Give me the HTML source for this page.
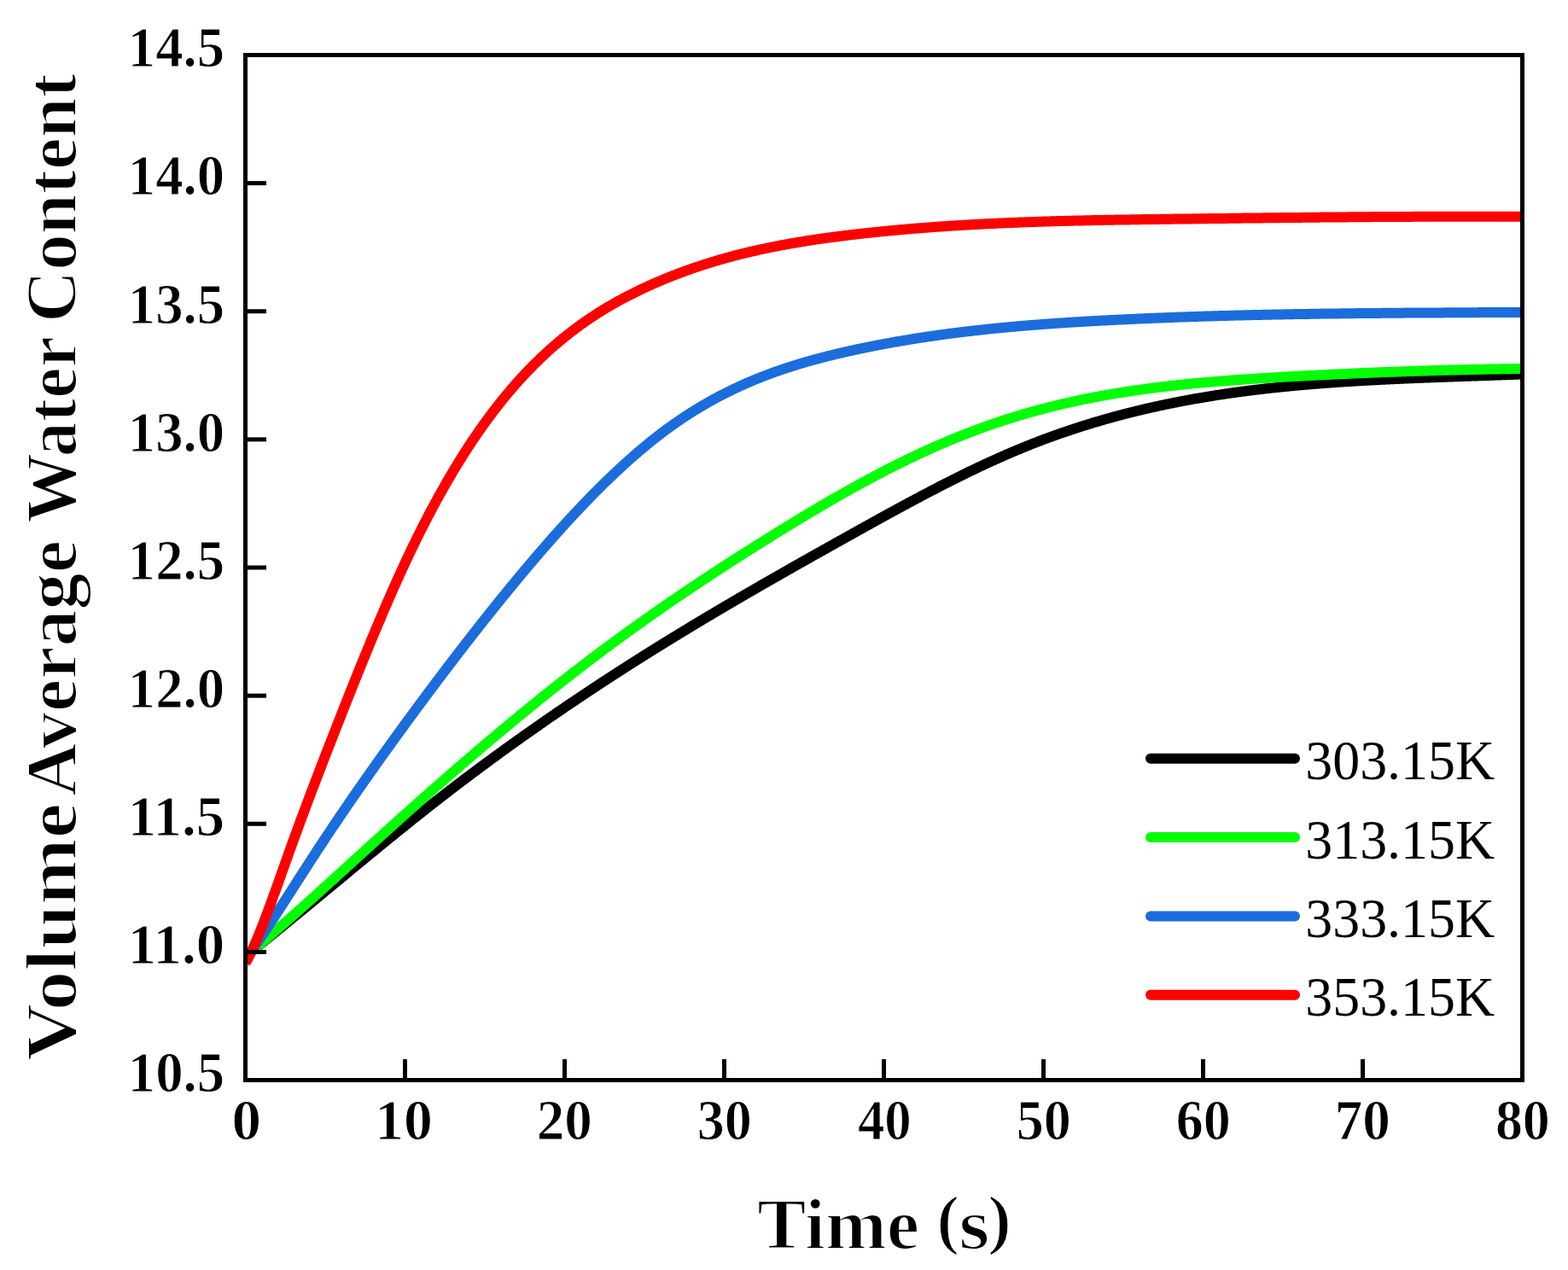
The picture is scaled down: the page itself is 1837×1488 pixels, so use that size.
<!DOCTYPE html>
<html><head><meta charset="utf-8"><title>Volume Average Water Content vs Time</title>
<style>
html,body{margin:0;padding:0;background:#fff;}
svg{display:block;}
.tkl{font-family:"Liberation Serif",serif;font-weight:bold;font-size:67px;fill:#000;stroke:#fff;stroke-width:1px;}
.lg{font-family:"Liberation Serif",serif;font-size:66.5px;fill:#000;}
.ttl{font-family:"Liberation Serif",serif;font-weight:bold;font-size:85.5px;fill:#000;stroke:#fff;stroke-width:2px;}

</style></head>
<body>
<svg width="1837" height="1488" viewBox="0 0 1837 1488">
<rect x="0" y="0" width="1837" height="1488" fill="#fff"/>
<defs><clipPath id="pa"><rect x="287.5" y="64.5" width="1496.0" height="1201.0"/></clipPath></defs>
<g id="plot" clip-path="url(#pa)" fill="none" stroke-width="12" stroke-linejoin="round" stroke-linecap="butt">
<path d="M287.5,1120.2 L288.5,1119.4 L289.5,1118.6 L290.5,1117.8 L291.5,1117.0 L292.5,1116.2 L293.5,1115.5 L294.5,1114.7 L295.5,1113.9 L296.5,1113.1 L297.5,1112.3 L298.5,1111.5 L299.5,1110.7 L300.5,1109.9 L301.5,1109.1 L302.5,1108.3 L303.5,1107.5 L304.5,1106.7 L305.5,1105.9 L306.5,1105.1 L307.5,1104.3 L308.5,1103.5 L309.5,1102.7 L310.5,1101.9 L311.5,1101.1 L312.5,1100.3 L313.5,1099.5 L314.5,1098.6 L315.5,1097.8 L316.5,1097.0 L317.5,1096.2 L318.5,1095.4 L319.5,1094.6 L320.5,1093.8 L321.5,1093.0 L322.5,1092.2 L323.5,1091.4 L324.5,1090.6 L325.5,1089.7 L326.5,1088.9 L327.5,1088.1 L328.5,1087.3 L329.5,1086.5 L330.5,1085.7 L331.5,1084.9 L332.5,1084.0 L333.5,1083.2 L334.5,1082.4 L335.5,1081.6 L336.5,1080.8 L337.5,1080.0 L338.5,1079.2 L339.5,1078.3 L340.5,1077.5 L341.5,1076.7 L342.5,1075.9 L343.5,1075.1 L344.5,1074.2 L345.5,1073.4 L346.5,1072.6 L347.5,1071.8 L348.5,1071.0 L349.5,1070.1 L350.5,1069.3 L351.5,1068.5 L352.5,1067.7 L353.5,1066.8 L354.5,1066.0 L355.5,1065.2 L356.5,1064.4 L357.5,1063.6 L358.5,1062.7 L359.5,1061.9 L360.5,1061.1 L361.5,1060.3 L362.5,1059.4 L363.5,1058.6 L364.5,1057.8 L365.5,1057.0 L366.5,1056.1 L367.5,1055.3 L368.5,1054.5 L369.5,1053.7 L370.5,1052.8 L371.5,1052.0 L372.5,1051.2 L373.5,1050.4 L374.5,1049.5 L375.5,1048.7 L376.5,1047.9 L377.5,1047.0 L378.5,1046.2 L379.5,1045.4 L380.5,1044.6 L381.5,1043.7 L382.5,1042.9 L383.5,1042.1 L384.5,1041.3 L385.5,1040.4 L386.5,1039.6 L387.5,1038.8 L388.5,1037.9 L389.5,1037.1 L390.5,1036.3 L391.5,1035.5 L392.5,1034.6 L393.5,1033.8 L394.5,1033.0 L395.5,1032.1 L396.5,1031.3 L397.5,1030.5 L398.5,1029.7 L399.5,1028.8 L400.5,1028.0 L401.5,1027.2 L402.5,1026.3 L403.5,1025.5 L404.5,1024.7 L405.5,1023.9 L406.5,1023.0 L407.5,1022.2 L408.5,1021.4 L409.5,1020.6 L410.5,1019.7 L411.5,1018.9 L412.5,1018.1 L413.5,1017.3 L414.5,1016.4 L415.5,1015.6 L416.5,1014.8 L417.5,1013.9 L418.5,1013.1 L419.5,1012.3 L420.5,1011.5 L421.5,1010.6 L422.5,1009.8 L423.5,1009.0 L424.5,1008.2 L425.5,1007.3 L426.5,1006.5 L427.5,1005.7 L428.5,1004.9 L429.5,1004.0 L430.5,1003.2 L431.5,1002.4 L432.5,1001.6 L433.5,1000.8 L434.5,999.9 L435.5,999.1 L436.5,998.3 L437.5,997.5 L438.5,996.7 L439.5,995.8 L440.5,995.0 L441.5,994.2 L442.5,993.4 L443.5,992.6 L444.5,991.7 L445.5,990.9 L446.5,990.1 L447.5,989.3 L448.5,988.5 L449.5,987.6 L450.5,986.8 L451.5,986.0 L452.5,985.2 L453.5,984.4 L454.5,983.6 L455.5,982.8 L456.5,981.9 L457.5,981.1 L458.5,980.3 L459.5,979.5 L460.5,978.7 L461.5,977.9 L462.5,977.1 L463.5,976.3 L464.5,975.4 L465.5,974.6 L466.5,973.8 L467.5,973.0 L468.5,972.2 L469.5,971.4 L470.5,970.6 L471.5,969.8 L472.5,969.0 L473.5,968.2 L474.5,967.4 L475.5,966.6 L476.5,965.8 L477.5,965.0 L478.5,964.2 L479.5,963.4 L480.5,962.5 L481.5,961.7 L482.5,960.9 L483.5,960.1 L484.5,959.3 L485.5,958.6 L486.5,957.8 L487.5,957.0 L488.5,956.2 L489.5,955.4 L490.5,954.6 L491.5,953.8 L492.5,953.0 L493.5,952.2 L494.5,951.4 L495.5,950.6 L496.5,949.8 L497.5,949.0 L498.5,948.2 L499.5,947.4 L500.5,946.7 L501.5,945.9 L502.5,945.1 L503.5,944.3 L504.5,943.5 L505.5,942.7 L506.5,941.9 L507.5,941.2 L508.5,940.4 L509.5,939.6 L510.5,938.8 L511.5,938.0 L512.5,937.3 L513.5,936.5 L514.5,935.7 L515.5,934.9 L516.5,934.2 L517.5,933.4 L518.5,932.6 L519.5,931.8 L520.5,931.1 L521.5,930.3 L522.5,929.5 L523.5,928.7 L524.5,928.0 L525.5,927.2 L526.5,926.4 L527.5,925.7 L528.5,924.9 L529.5,924.1 L530.5,923.4 L531.5,922.6 L532.5,921.8 L533.5,921.1 L534.5,920.3 L535.5,919.5 L536.5,918.8 L537.5,918.0 L538.5,917.3 L539.5,916.5 L540.5,915.7 L541.5,915.0 L542.5,914.2 L543.5,913.5 L544.5,912.7 L545.5,912.0 L546.5,911.2 L547.5,910.5 L548.5,909.7 L549.5,909.0 L550.5,908.2 L551.5,907.4 L552.5,906.7 L553.5,905.9 L554.5,905.2 L555.5,904.5 L556.5,903.7 L557.5,903.0 L558.5,902.2 L559.5,901.5 L560.5,900.7 L561.5,900.0 L562.5,899.2 L563.5,898.5 L564.5,897.7 L565.5,897.0 L566.5,896.3 L567.5,895.5 L568.5,894.8 L569.5,894.0 L570.5,893.3 L571.5,892.6 L572.5,891.8 L573.5,891.1 L574.5,890.4 L575.5,889.6 L576.5,888.9 L577.5,888.2 L578.5,887.4 L579.5,886.7 L580.5,886.0 L581.5,885.2 L582.5,884.5 L583.5,883.8 L584.5,883.1 L585.5,882.3 L586.5,881.6 L587.5,880.9 L588.5,880.1 L589.5,879.4 L590.5,878.7 L591.5,878.0 L592.5,877.3 L593.5,876.5 L594.5,875.8 L595.5,875.1 L596.5,874.4 L597.5,873.6 L598.5,872.9 L599.5,872.2 L600.5,871.5 L601.5,870.8 L602.5,870.1 L603.5,869.3 L604.5,868.6 L605.5,867.9 L606.5,867.2 L607.5,866.5 L608.5,865.8 L609.5,865.1 L610.5,864.3 L611.5,863.6 L612.5,862.9 L613.5,862.2 L614.5,861.5 L615.5,860.8 L616.5,860.1 L617.5,859.4 L618.5,858.7 L619.5,858.0 L620.5,857.3 L621.5,856.6 L622.5,855.9 L623.5,855.2 L624.5,854.5 L625.5,853.8 L626.5,853.1 L627.5,852.4 L628.5,851.7 L629.5,851.0 L630.5,850.3 L631.5,849.6 L632.5,848.9 L633.5,848.2 L634.5,847.5 L635.5,846.8 L636.5,846.1 L637.5,845.4 L638.5,844.7 L639.5,844.0 L640.5,843.3 L641.5,842.6 L642.5,841.9 L643.5,841.2 L644.5,840.5 L645.5,839.8 L646.5,839.2 L647.5,838.5 L648.5,837.8 L649.5,837.1 L650.5,836.4 L651.5,835.7 L652.5,835.0 L653.5,834.4 L654.5,833.7 L655.5,833.0 L656.5,832.3 L657.5,831.6 L658.5,830.9 L659.5,830.3 L660.5,829.6 L661.5,828.9 L662.5,828.2 L663.5,827.5 L664.5,826.9 L665.5,826.2 L666.5,825.5 L667.5,824.8 L668.5,824.2 L669.5,823.5 L670.5,822.8 L671.5,822.1 L672.5,821.5 L673.5,820.8 L674.5,820.1 L675.5,819.4 L676.5,818.8 L677.5,818.1 L678.5,817.4 L679.5,816.8 L680.5,816.1 L681.5,815.4 L682.5,814.8 L683.5,814.1 L684.5,813.4 L685.5,812.8 L686.5,812.1 L687.5,811.4 L688.5,810.8 L689.5,810.1 L690.5,809.4 L691.5,808.8 L692.5,808.1 L693.5,807.4 L694.5,806.8 L695.5,806.1 L696.5,805.5 L697.5,804.8 L698.5,804.1 L699.5,803.5 L700.5,802.8 L701.5,802.2 L702.5,801.5 L703.5,800.9 L704.5,800.2 L705.5,799.5 L706.5,798.9 L707.5,798.2 L708.5,797.6 L709.5,796.9 L710.5,796.3 L711.5,795.6 L712.5,795.0 L713.5,794.3 L714.5,793.7 L715.5,793.0 L716.5,792.4 L717.5,791.7 L718.5,791.1 L719.5,790.4 L720.5,789.8 L721.5,789.1 L722.5,788.5 L723.5,787.9 L724.5,787.2 L725.5,786.6 L726.5,785.9 L727.5,785.3 L728.5,784.6 L729.5,784.0 L730.5,783.4 L731.5,782.7 L732.5,782.1 L733.5,781.4 L734.5,780.8 L735.5,780.2 L736.5,779.5 L737.5,778.9 L738.5,778.2 L739.5,777.6 L740.5,777.0 L741.5,776.3 L742.5,775.7 L743.5,775.1 L744.5,774.4 L745.5,773.8 L746.5,773.2 L747.5,772.5 L748.5,771.9 L749.5,771.3 L750.5,770.6 L751.5,770.0 L752.5,769.4 L753.5,768.7 L754.5,768.1 L755.5,767.5 L756.5,766.9 L757.5,766.2 L758.5,765.6 L759.5,765.0 L760.5,764.4 L761.5,763.7 L762.5,763.1 L763.5,762.5 L764.5,761.9 L765.5,761.2 L766.5,760.6 L767.5,760.0 L768.5,759.4 L769.5,758.7 L770.5,758.1 L771.5,757.5 L772.5,756.9 L773.5,756.3 L774.5,755.6 L775.5,755.0 L776.5,754.4 L777.5,753.8 L778.5,753.2 L779.5,752.5 L780.5,751.9 L781.5,751.3 L782.5,750.7 L783.5,750.1 L784.5,749.5 L785.5,748.9 L786.5,748.2 L787.5,747.6 L788.5,747.0 L789.5,746.4 L790.5,745.8 L791.5,745.2 L792.5,744.6 L793.5,744.0 L794.5,743.3 L795.5,742.7 L796.5,742.1 L797.5,741.5 L798.5,740.9 L799.5,740.3 L800.5,739.7 L801.5,739.1 L802.5,738.5 L803.5,737.9 L804.5,737.3 L805.5,736.7 L806.5,736.1 L807.5,735.4 L808.5,734.8 L809.5,734.2 L810.5,733.6 L811.5,733.0 L812.5,732.4 L813.5,731.8 L814.5,731.2 L815.5,730.6 L816.5,730.0 L817.5,729.4 L818.5,728.8 L819.5,728.2 L820.5,727.6 L821.5,727.0 L822.5,726.4 L823.5,725.8 L824.5,725.2 L825.5,724.6 L826.5,724.0 L827.5,723.4 L828.5,722.8 L829.5,722.2 L830.5,721.6 L831.5,721.1 L832.5,720.5 L833.5,719.9 L834.5,719.3 L835.5,718.7 L836.5,718.1 L837.5,717.5 L838.5,716.9 L839.5,716.3 L840.5,715.7 L841.5,715.1 L842.5,714.5 L843.5,713.9 L844.5,713.3 L845.5,712.8 L846.5,712.2 L847.5,711.6 L848.5,711.0 L849.5,710.4 L850.5,709.8 L851.5,709.2 L852.5,708.6 L853.5,708.0 L854.5,707.5 L855.5,706.9 L856.5,706.3 L857.5,705.7 L858.5,705.1 L859.5,704.5 L860.5,703.9 L861.5,703.4 L862.5,702.8 L863.5,702.2 L864.5,701.6 L865.5,701.0 L866.5,700.4 L867.5,699.9 L868.5,699.3 L869.5,698.7 L870.5,698.1 L871.5,697.5 L872.5,696.9 L873.5,696.4 L874.5,695.8 L875.5,695.2 L876.5,694.6 L877.5,694.0 L878.5,693.5 L879.5,692.9 L880.5,692.3 L881.5,691.7 L882.5,691.1 L883.5,690.6 L884.5,690.0 L885.5,689.4 L886.5,688.8 L887.5,688.3 L888.5,687.7 L889.5,687.1 L890.5,686.5 L891.5,685.9 L892.5,685.4 L893.5,684.8 L894.5,684.2 L895.5,683.6 L896.5,683.1 L897.5,682.5 L898.5,681.9 L899.5,681.4 L900.5,680.8 L901.5,680.2 L902.5,679.6 L903.5,679.1 L904.5,678.5 L905.5,677.9 L906.5,677.3 L907.5,676.8 L908.5,676.2 L909.5,675.6 L910.5,675.1 L911.5,674.5 L912.5,673.9 L913.5,673.3 L914.5,672.8 L915.5,672.2 L916.5,671.6 L917.5,671.1 L918.5,670.5 L919.5,669.9 L920.5,669.4 L921.5,668.8 L922.5,668.2 L923.5,667.6 L924.5,667.1 L925.5,666.5 L926.5,665.9 L927.5,665.4 L928.5,664.8 L929.5,664.2 L930.5,663.7 L931.5,663.1 L932.5,662.5 L933.5,662.0 L934.5,661.4 L935.5,660.8 L936.5,660.3 L937.5,659.7 L938.5,659.1 L939.5,658.6 L940.5,658.0 L941.5,657.4 L942.5,656.9 L943.5,656.3 L944.5,655.8 L945.5,655.2 L946.5,654.6 L947.5,654.1 L948.5,653.5 L949.5,652.9 L950.5,652.4 L951.5,651.8 L952.5,651.2 L953.5,650.7 L954.5,650.1 L955.5,649.6 L956.5,649.0 L957.5,648.4 L958.5,647.9 L959.5,647.3 L960.5,646.8 L961.5,646.2 L962.5,645.6 L963.5,645.1 L964.5,644.5 L965.5,643.9 L966.5,643.4 L967.5,642.8 L968.5,642.3 L969.5,641.7 L970.5,641.1 L971.5,640.6 L972.5,640.0 L973.5,639.5 L974.5,638.9 L975.5,638.3 L976.5,637.8 L977.5,637.2 L978.5,636.7 L979.5,636.1 L980.5,635.5 L981.5,635.0 L982.5,634.4 L983.5,633.9 L984.5,633.3 L985.5,632.8 L986.5,632.2 L987.5,631.6 L988.5,631.1 L989.5,630.5 L990.5,630.0 L991.5,629.4 L992.5,628.8 L993.5,628.3 L994.5,627.7 L995.5,627.2 L996.5,626.6 L997.5,626.1 L998.5,625.5 L999.5,624.9 L1000.5,624.4 L1001.5,623.8 L1002.5,623.3 L1003.5,622.7 L1004.5,622.2 L1005.5,621.6 L1006.5,621.0 L1007.5,620.5 L1008.5,619.9 L1009.5,619.4 L1010.5,618.8 L1011.5,618.3 L1012.5,617.7 L1013.5,617.2 L1014.5,616.6 L1015.5,616.0 L1016.5,615.5 L1017.5,614.9 L1018.5,614.4 L1019.5,613.8 L1020.5,613.3 L1021.5,612.7 L1022.5,612.2 L1023.5,611.6 L1024.5,611.1 L1025.5,610.5 L1026.5,610.0 L1027.5,609.4 L1028.5,608.9 L1029.5,608.3 L1030.5,607.7 L1031.5,607.2 L1032.5,606.6 L1033.5,606.1 L1034.5,605.5 L1035.5,605.0 L1036.5,604.4 L1037.5,603.9 L1038.5,603.3 L1039.5,602.8 L1040.5,602.2 L1041.5,601.7 L1042.5,601.2 L1043.5,600.6 L1044.5,600.1 L1045.5,599.5 L1046.5,599.0 L1047.5,598.4 L1048.5,597.9 L1049.5,597.3 L1050.5,596.8 L1051.5,596.2 L1052.5,595.7 L1053.5,595.2 L1054.5,594.6 L1055.5,594.1 L1056.5,593.5 L1057.5,593.0 L1058.5,592.4 L1059.5,591.9 L1060.5,591.4 L1061.5,590.8 L1062.5,590.3 L1063.5,589.7 L1064.5,589.2 L1065.5,588.7 L1066.5,588.1 L1067.5,587.6 L1068.5,587.1 L1069.5,586.5 L1070.5,586.0 L1071.5,585.5 L1072.5,584.9 L1073.5,584.4 L1074.5,583.9 L1075.5,583.3 L1076.5,582.8 L1077.5,582.3 L1078.5,581.7 L1079.5,581.2 L1080.5,580.7 L1081.5,580.1 L1082.5,579.6 L1083.5,579.1 L1084.5,578.6 L1085.5,578.0 L1086.5,577.5 L1087.5,577.0 L1088.5,576.5 L1089.5,575.9 L1090.5,575.4 L1091.5,574.9 L1092.5,574.4 L1093.5,573.9 L1094.5,573.3 L1095.5,572.8 L1096.5,572.3 L1097.5,571.8 L1098.5,571.3 L1099.5,570.7 L1100.5,570.2 L1101.5,569.7 L1102.5,569.2 L1103.5,568.7 L1104.5,568.2 L1105.5,567.7 L1106.5,567.2 L1107.5,566.6 L1108.5,566.1 L1109.5,565.6 L1110.5,565.1 L1111.5,564.6 L1112.5,564.1 L1113.5,563.6 L1114.5,563.1 L1115.5,562.6 L1116.5,562.1 L1117.5,561.6 L1118.5,561.1 L1119.5,560.6 L1120.5,560.1 L1121.5,559.6 L1122.5,559.1 L1123.5,558.6 L1124.5,558.1 L1125.5,557.6 L1126.5,557.1 L1127.5,556.6 L1128.5,556.1 L1129.5,555.6 L1130.5,555.1 L1131.5,554.7 L1132.5,554.2 L1133.5,553.7 L1134.5,553.2 L1135.5,552.7 L1136.5,552.2 L1137.5,551.7 L1138.5,551.3 L1139.5,550.8 L1140.5,550.3 L1141.5,549.8 L1142.5,549.3 L1143.5,548.9 L1144.5,548.4 L1145.5,547.9 L1146.5,547.4 L1147.5,547.0 L1148.5,546.5 L1149.5,546.0 L1150.5,545.6 L1151.5,545.1 L1152.5,544.6 L1153.5,544.2 L1154.5,543.7 L1155.5,543.2 L1156.5,542.8 L1157.5,542.3 L1158.5,541.8 L1159.5,541.4 L1160.5,540.9 L1161.5,540.5 L1162.5,540.0 L1163.5,539.6 L1164.5,539.1 L1165.5,538.7 L1166.5,538.2 L1167.5,537.8 L1168.5,537.3 L1169.5,536.9 L1170.5,536.4 L1171.5,536.0 L1172.5,535.5 L1173.5,535.1 L1174.5,534.6 L1175.5,534.2 L1176.5,533.8 L1177.5,533.3 L1178.5,532.9 L1179.5,532.4 L1180.5,532.0 L1181.5,531.6 L1182.5,531.2 L1183.5,530.7 L1184.5,530.3 L1185.5,529.9 L1186.5,529.4 L1187.5,529.0 L1188.5,528.6 L1189.5,528.2 L1190.5,527.7 L1191.5,527.3 L1192.5,526.9 L1193.5,526.5 L1194.5,526.1 L1195.5,525.7 L1196.5,525.3 L1197.5,524.8 L1198.5,524.4 L1199.5,524.0 L1200.5,523.6 L1201.5,523.2 L1202.5,522.8 L1203.5,522.4 L1204.5,522.0 L1205.5,521.6 L1206.5,521.2 L1207.5,520.8 L1208.5,520.4 L1209.5,520.0 L1210.5,519.6 L1211.5,519.2 L1212.5,518.8 L1213.5,518.5 L1214.5,518.1 L1215.5,517.7 L1216.5,517.3 L1217.5,516.9 L1218.5,516.5 L1219.5,516.2 L1220.5,515.8 L1221.5,515.4 L1222.5,515.0 L1223.5,514.6 L1224.5,514.3 L1225.5,513.9 L1226.5,513.5 L1227.5,513.2 L1228.5,512.8 L1229.5,512.4 L1230.5,512.1 L1231.5,511.7 L1232.5,511.3 L1233.5,511.0 L1234.5,510.6 L1235.5,510.3 L1236.5,509.9 L1237.5,509.5 L1238.5,509.2 L1239.5,508.8 L1240.5,508.5 L1241.5,508.1 L1242.5,507.8 L1243.5,507.4 L1244.5,507.1 L1245.5,506.7 L1246.5,506.4 L1247.5,506.1 L1248.5,505.7 L1249.5,505.4 L1250.5,505.0 L1251.5,504.7 L1252.5,504.4 L1253.5,504.0 L1254.5,503.7 L1255.5,503.4 L1256.5,503.0 L1257.5,502.7 L1258.5,502.4 L1259.5,502.0 L1260.5,501.7 L1261.5,501.4 L1262.5,501.1 L1263.5,500.7 L1264.5,500.4 L1265.5,500.1 L1266.5,499.8 L1267.5,499.5 L1268.5,499.1 L1269.5,498.8 L1270.5,498.5 L1271.5,498.2 L1272.5,497.9 L1273.5,497.6 L1274.5,497.3 L1275.5,497.0 L1276.5,496.7 L1277.5,496.4 L1278.5,496.0 L1279.5,495.7 L1280.5,495.4 L1281.5,495.1 L1282.5,494.8 L1283.5,494.5 L1284.5,494.3 L1285.5,494.0 L1286.5,493.7 L1287.5,493.4 L1288.5,493.1 L1289.5,492.8 L1290.5,492.5 L1291.5,492.2 L1292.5,491.9 L1293.5,491.6 L1294.5,491.3 L1295.5,491.1 L1296.5,490.8 L1297.5,490.5 L1298.5,490.2 L1299.5,489.9 L1300.5,489.7 L1301.5,489.4 L1302.5,489.1 L1303.5,488.8 L1304.5,488.6 L1305.5,488.3 L1306.5,488.0 L1307.5,487.7 L1308.5,487.5 L1309.5,487.2 L1310.5,486.9 L1311.5,486.7 L1312.5,486.4 L1313.5,486.1 L1314.5,485.9 L1315.5,485.6 L1316.5,485.4 L1317.5,485.1 L1318.5,484.8 L1319.5,484.6 L1320.5,484.3 L1321.5,484.1 L1322.5,483.8 L1323.5,483.6 L1324.5,483.3 L1325.5,483.1 L1326.5,482.8 L1327.5,482.6 L1328.5,482.3 L1329.5,482.1 L1330.5,481.8 L1331.5,481.6 L1332.5,481.3 L1333.5,481.1 L1334.5,480.9 L1335.5,480.6 L1336.5,480.4 L1337.5,480.1 L1338.5,479.9 L1339.5,479.7 L1340.5,479.4 L1341.5,479.2 L1342.5,479.0 L1343.5,478.7 L1344.5,478.5 L1345.5,478.3 L1346.5,478.1 L1347.5,477.8 L1348.5,477.6 L1349.5,477.4 L1350.5,477.2 L1351.5,476.9 L1352.5,476.7 L1353.5,476.5 L1354.5,476.3 L1355.5,476.1 L1356.5,475.8 L1357.5,475.6 L1358.5,475.4 L1359.5,475.2 L1360.5,475.0 L1361.5,474.8 L1362.5,474.5 L1363.5,474.3 L1364.5,474.1 L1365.5,473.9 L1366.5,473.7 L1367.5,473.5 L1368.5,473.3 L1369.5,473.1 L1370.5,472.9 L1371.5,472.7 L1372.5,472.5 L1373.5,472.3 L1374.5,472.1 L1375.5,471.9 L1376.5,471.7 L1377.5,471.5 L1378.5,471.3 L1379.5,471.1 L1380.5,470.9 L1381.5,470.7 L1382.5,470.5 L1383.5,470.3 L1384.5,470.1 L1385.5,469.9 L1386.5,469.7 L1387.5,469.6 L1388.5,469.4 L1389.5,469.2 L1390.5,469.0 L1391.5,468.8 L1392.5,468.6 L1393.5,468.4 L1394.5,468.3 L1395.5,468.1 L1396.5,467.9 L1397.5,467.7 L1398.5,467.5 L1399.5,467.4 L1400.5,467.2 L1401.5,467.0 L1402.5,466.8 L1403.5,466.7 L1404.5,466.5 L1405.5,466.3 L1406.5,466.1 L1407.5,466.0 L1408.5,465.8 L1409.5,465.6 L1410.5,465.5 L1411.5,465.3 L1412.5,465.1 L1413.5,465.0 L1414.5,464.8 L1415.5,464.6 L1416.5,464.5 L1417.5,464.3 L1418.5,464.1 L1419.5,464.0 L1420.5,463.8 L1421.5,463.7 L1422.5,463.5 L1423.5,463.4 L1424.5,463.2 L1425.5,463.0 L1426.5,462.9 L1427.5,462.7 L1428.5,462.6 L1429.5,462.4 L1430.5,462.3 L1431.5,462.1 L1432.5,462.0 L1433.5,461.8 L1434.5,461.7 L1435.5,461.5 L1436.5,461.4 L1437.5,461.2 L1438.5,461.1 L1439.5,460.9 L1440.5,460.8 L1441.5,460.7 L1442.5,460.5 L1443.5,460.4 L1444.5,460.2 L1445.5,460.1 L1446.5,460.0 L1447.5,459.8 L1448.5,459.7 L1449.5,459.5 L1450.5,459.4 L1451.5,459.3 L1452.5,459.1 L1453.5,459.0 L1454.5,458.9 L1455.5,458.7 L1456.5,458.6 L1457.5,458.5 L1458.5,458.3 L1459.5,458.2 L1460.5,458.1 L1461.5,457.9 L1462.5,457.8 L1463.5,457.7 L1464.5,457.6 L1465.5,457.4 L1466.5,457.3 L1467.5,457.2 L1468.5,457.1 L1469.5,456.9 L1470.5,456.8 L1471.5,456.7 L1472.5,456.6 L1473.5,456.5 L1474.5,456.3 L1475.5,456.2 L1476.5,456.1 L1477.5,456.0 L1478.5,455.9 L1479.5,455.8 L1480.5,455.6 L1481.5,455.5 L1482.5,455.4 L1483.5,455.3 L1484.5,455.2 L1485.5,455.1 L1486.5,455.0 L1487.5,454.9 L1488.5,454.7 L1489.5,454.6 L1490.5,454.5 L1491.5,454.4 L1492.5,454.3 L1493.5,454.2 L1494.5,454.1 L1495.5,454.0 L1496.5,453.9 L1497.5,453.8 L1498.5,453.7 L1499.5,453.6 L1500.5,453.5 L1501.5,453.4 L1502.5,453.3 L1503.5,453.2 L1504.5,453.1 L1505.5,453.0 L1506.5,452.9 L1507.5,452.8 L1508.5,452.7 L1509.5,452.6 L1510.5,452.5 L1511.5,452.4 L1512.5,452.3 L1513.5,452.2 L1514.5,452.1 L1515.5,452.0 L1516.5,451.9 L1517.5,451.8 L1518.5,451.7 L1519.5,451.6 L1520.5,451.5 L1521.5,451.4 L1522.5,451.4 L1523.5,451.3 L1524.5,451.2 L1525.5,451.1 L1526.5,451.0 L1527.5,450.9 L1528.5,450.8 L1529.5,450.7 L1530.5,450.7 L1531.5,450.6 L1532.5,450.5 L1533.5,450.4 L1534.5,450.3 L1535.5,450.2 L1536.5,450.2 L1537.5,450.1 L1538.5,450.0 L1539.5,449.9 L1540.5,449.8 L1541.5,449.7 L1542.5,449.7 L1543.5,449.6 L1544.5,449.5 L1545.5,449.4 L1546.5,449.4 L1547.5,449.3 L1548.5,449.2 L1549.5,449.1 L1550.5,449.0 L1551.5,449.0 L1552.5,448.9 L1553.5,448.8 L1554.5,448.7 L1555.5,448.7 L1556.5,448.6 L1557.5,448.5 L1558.5,448.5 L1559.5,448.4 L1560.5,448.3 L1561.5,448.2 L1562.5,448.2 L1563.5,448.1 L1564.5,448.0 L1565.5,448.0 L1566.5,447.9 L1567.5,447.8 L1568.5,447.8 L1569.5,447.7 L1570.5,447.6 L1571.5,447.6 L1572.5,447.5 L1573.5,447.4 L1574.5,447.4 L1575.5,447.3 L1576.5,447.2 L1577.5,447.2 L1578.5,447.1 L1579.5,447.0 L1580.5,447.0 L1581.5,446.9 L1582.5,446.9 L1583.5,446.8 L1584.5,446.7 L1585.5,446.7 L1586.5,446.6 L1587.5,446.5 L1588.5,446.5 L1589.5,446.4 L1590.5,446.4 L1591.5,446.3 L1592.5,446.3 L1593.5,446.2 L1594.5,446.1 L1595.5,446.1 L1596.5,446.0 L1597.5,446.0 L1598.5,445.9 L1599.5,445.9 L1600.5,445.8 L1601.5,445.7 L1602.5,445.7 L1603.5,445.6 L1604.5,445.6 L1605.5,445.5 L1606.5,445.5 L1607.5,445.4 L1608.5,445.4 L1609.5,445.3 L1610.5,445.3 L1611.5,445.2 L1612.5,445.2 L1613.5,445.1 L1614.5,445.1 L1615.5,445.0 L1616.5,445.0 L1617.5,444.9 L1618.5,444.8 L1619.5,444.8 L1620.5,444.8 L1621.5,444.7 L1622.5,444.7 L1623.5,444.6 L1624.5,444.6 L1625.5,444.5 L1626.5,444.5 L1627.5,444.4 L1628.5,444.4 L1629.5,444.3 L1630.5,444.3 L1631.5,444.2 L1632.5,444.2 L1633.5,444.1 L1634.5,444.1 L1635.5,444.0 L1636.5,444.0 L1637.5,443.9 L1638.5,443.9 L1639.5,443.9 L1640.5,443.8 L1641.5,443.8 L1642.5,443.7 L1643.5,443.7 L1644.5,443.6 L1645.5,443.6 L1646.5,443.6 L1647.5,443.5 L1648.5,443.5 L1649.5,443.4 L1650.5,443.4 L1651.5,443.3 L1652.5,443.3 L1653.5,443.3 L1654.5,443.2 L1655.5,443.2 L1656.5,443.1 L1657.5,443.1 L1658.5,443.0 L1659.5,443.0 L1660.5,443.0 L1661.5,442.9 L1662.5,442.9 L1663.5,442.8 L1664.5,442.8 L1665.5,442.8 L1666.5,442.7 L1667.5,442.7 L1668.5,442.6 L1669.5,442.6 L1670.5,442.6 L1671.5,442.5 L1672.5,442.5 L1673.5,442.5 L1674.5,442.4 L1675.5,442.4 L1676.5,442.3 L1677.5,442.3 L1678.5,442.3 L1679.5,442.2 L1680.5,442.2 L1681.5,442.1 L1682.5,442.1 L1683.5,442.1 L1684.5,442.0 L1685.5,442.0 L1686.5,442.0 L1687.5,441.9 L1688.5,441.9 L1689.5,441.9 L1690.5,441.8 L1691.5,441.8 L1692.5,441.7 L1693.5,441.7 L1694.5,441.7 L1695.5,441.6 L1696.5,441.6 L1697.5,441.6 L1698.5,441.5 L1699.5,441.5 L1700.5,441.5 L1701.5,441.4 L1702.5,441.4 L1703.5,441.3 L1704.5,441.3 L1705.5,441.3 L1706.5,441.2 L1707.5,441.2 L1708.5,441.2 L1709.5,441.1 L1710.5,441.1 L1711.5,441.1 L1712.5,441.0 L1713.5,441.0 L1714.5,441.0 L1715.5,440.9 L1716.5,440.9 L1717.5,440.8 L1718.5,440.8 L1719.5,440.8 L1720.5,440.7 L1721.5,440.7 L1722.5,440.7 L1723.5,440.6 L1724.5,440.6 L1725.5,440.6 L1726.5,440.5 L1727.5,440.5 L1728.5,440.5 L1729.5,440.4 L1730.5,440.4 L1731.5,440.4 L1732.5,440.3 L1733.5,440.3 L1734.5,440.2 L1735.5,440.2 L1736.5,440.2 L1737.5,440.1 L1738.5,440.1 L1739.5,440.1 L1740.5,440.0 L1741.5,440.0 L1742.5,440.0 L1743.5,439.9 L1744.5,439.9 L1745.5,439.9 L1746.5,439.8 L1747.5,439.8 L1748.5,439.7 L1749.5,439.7 L1750.5,439.7 L1751.5,439.6 L1752.5,439.6 L1753.5,439.6 L1754.5,439.5 L1755.5,439.5 L1756.5,439.5 L1757.5,439.4 L1758.5,439.4 L1759.5,439.3 L1760.5,439.3 L1761.5,439.3 L1762.5,439.2 L1763.5,439.2 L1764.5,439.2 L1765.5,439.1 L1766.5,439.1 L1767.5,439.0 L1768.5,439.0 L1769.5,439.0 L1770.5,438.9 L1771.5,438.9 L1772.5,438.9 L1773.5,438.8 L1774.5,438.8 L1775.5,438.7 L1776.5,438.7 L1777.5,438.7 L1778.5,438.6 L1779.5,438.6 L1780.5,438.5 L1781.5,438.5 L1782.5,438.5 L1783.5,438.4" stroke="#000000"/>
<path d="M287.5,1120.7 L288.5,1119.9 L289.5,1119.0 L290.5,1118.2 L291.5,1117.4 L292.5,1116.5 L293.5,1115.7 L294.5,1114.9 L295.5,1114.0 L296.5,1113.2 L297.5,1112.3 L298.5,1111.5 L299.5,1110.7 L300.5,1109.8 L301.5,1109.0 L302.5,1108.1 L303.5,1107.3 L304.5,1106.4 L305.5,1105.6 L306.5,1104.7 L307.5,1103.9 L308.5,1103.0 L309.5,1102.1 L310.5,1101.3 L311.5,1100.4 L312.5,1099.6 L313.5,1098.7 L314.5,1097.9 L315.5,1097.0 L316.5,1096.1 L317.5,1095.3 L318.5,1094.4 L319.5,1093.5 L320.5,1092.7 L321.5,1091.8 L322.5,1090.9 L323.5,1090.1 L324.5,1089.2 L325.5,1088.3 L326.5,1087.5 L327.5,1086.6 L328.5,1085.7 L329.5,1084.8 L330.5,1084.0 L331.5,1083.1 L332.5,1082.2 L333.5,1081.3 L334.5,1080.5 L335.5,1079.6 L336.5,1078.7 L337.5,1077.8 L338.5,1076.9 L339.5,1076.1 L340.5,1075.2 L341.5,1074.3 L342.5,1073.4 L343.5,1072.5 L344.5,1071.6 L345.5,1070.7 L346.5,1069.9 L347.5,1069.0 L348.5,1068.1 L349.5,1067.2 L350.5,1066.3 L351.5,1065.4 L352.5,1064.5 L353.5,1063.6 L354.5,1062.7 L355.5,1061.8 L356.5,1060.9 L357.5,1060.0 L358.5,1059.2 L359.5,1058.3 L360.5,1057.4 L361.5,1056.5 L362.5,1055.6 L363.5,1054.7 L364.5,1053.8 L365.5,1052.9 L366.5,1052.0 L367.5,1051.1 L368.5,1050.2 L369.5,1049.3 L370.5,1048.4 L371.5,1047.5 L372.5,1046.6 L373.5,1045.7 L374.5,1044.8 L375.5,1043.9 L376.5,1043.0 L377.5,1042.1 L378.5,1041.2 L379.5,1040.3 L380.5,1039.3 L381.5,1038.4 L382.5,1037.5 L383.5,1036.6 L384.5,1035.7 L385.5,1034.8 L386.5,1033.9 L387.5,1033.0 L388.5,1032.1 L389.5,1031.2 L390.5,1030.3 L391.5,1029.4 L392.5,1028.5 L393.5,1027.6 L394.5,1026.6 L395.5,1025.7 L396.5,1024.8 L397.5,1023.9 L398.5,1023.0 L399.5,1022.1 L400.5,1021.2 L401.5,1020.3 L402.5,1019.4 L403.5,1018.5 L404.5,1017.6 L405.5,1016.6 L406.5,1015.7 L407.5,1014.8 L408.5,1013.9 L409.5,1013.0 L410.5,1012.1 L411.5,1011.2 L412.5,1010.3 L413.5,1009.4 L414.5,1008.5 L415.5,1007.5 L416.5,1006.6 L417.5,1005.7 L418.5,1004.8 L419.5,1003.9 L420.5,1003.0 L421.5,1002.1 L422.5,1001.2 L423.5,1000.3 L424.5,999.3 L425.5,998.4 L426.5,997.5 L427.5,996.6 L428.5,995.7 L429.5,994.8 L430.5,993.9 L431.5,993.0 L432.5,992.1 L433.5,991.2 L434.5,990.3 L435.5,989.3 L436.5,988.4 L437.5,987.5 L438.5,986.6 L439.5,985.7 L440.5,984.8 L441.5,983.9 L442.5,983.0 L443.5,982.1 L444.5,981.2 L445.5,980.3 L446.5,979.4 L447.5,978.5 L448.5,977.6 L449.5,976.7 L450.5,975.8 L451.5,974.8 L452.5,973.9 L453.5,973.0 L454.5,972.1 L455.5,971.2 L456.5,970.3 L457.5,969.4 L458.5,968.5 L459.5,967.6 L460.5,966.7 L461.5,965.8 L462.5,964.9 L463.5,964.0 L464.5,963.1 L465.5,962.2 L466.5,961.3 L467.5,960.4 L468.5,959.5 L469.5,958.6 L470.5,957.7 L471.5,956.9 L472.5,956.0 L473.5,955.1 L474.5,954.2 L475.5,953.3 L476.5,952.4 L477.5,951.5 L478.5,950.6 L479.5,949.7 L480.5,948.8 L481.5,947.9 L482.5,947.0 L483.5,946.1 L484.5,945.2 L485.5,944.4 L486.5,943.5 L487.5,942.6 L488.5,941.7 L489.5,940.8 L490.5,939.9 L491.5,939.0 L492.5,938.1 L493.5,937.2 L494.5,936.4 L495.5,935.5 L496.5,934.6 L497.5,933.7 L498.5,932.8 L499.5,931.9 L500.5,931.1 L501.5,930.2 L502.5,929.3 L503.5,928.4 L504.5,927.5 L505.5,926.6 L506.5,925.8 L507.5,924.9 L508.5,924.0 L509.5,923.1 L510.5,922.2 L511.5,921.4 L512.5,920.5 L513.5,919.6 L514.5,918.7 L515.5,917.9 L516.5,917.0 L517.5,916.1 L518.5,915.2 L519.5,914.4 L520.5,913.5 L521.5,912.6 L522.5,911.7 L523.5,910.9 L524.5,910.0 L525.5,909.1 L526.5,908.2 L527.5,907.4 L528.5,906.5 L529.5,905.6 L530.5,904.8 L531.5,903.9 L532.5,903.0 L533.5,902.2 L534.5,901.3 L535.5,900.4 L536.5,899.6 L537.5,898.7 L538.5,897.8 L539.5,897.0 L540.5,896.1 L541.5,895.2 L542.5,894.4 L543.5,893.5 L544.5,892.7 L545.5,891.8 L546.5,890.9 L547.5,890.1 L548.5,889.2 L549.5,888.4 L550.5,887.5 L551.5,886.6 L552.5,885.8 L553.5,884.9 L554.5,884.1 L555.5,883.2 L556.5,882.4 L557.5,881.5 L558.5,880.7 L559.5,879.8 L560.5,879.0 L561.5,878.1 L562.5,877.3 L563.5,876.4 L564.5,875.6 L565.5,874.7 L566.5,873.9 L567.5,873.0 L568.5,872.2 L569.5,871.3 L570.5,870.5 L571.5,869.6 L572.5,868.8 L573.5,867.9 L574.5,867.1 L575.5,866.2 L576.5,865.4 L577.5,864.6 L578.5,863.7 L579.5,862.9 L580.5,862.0 L581.5,861.2 L582.5,860.4 L583.5,859.5 L584.5,858.7 L585.5,857.8 L586.5,857.0 L587.5,856.2 L588.5,855.3 L589.5,854.5 L590.5,853.7 L591.5,852.8 L592.5,852.0 L593.5,851.2 L594.5,850.3 L595.5,849.5 L596.5,848.7 L597.5,847.8 L598.5,847.0 L599.5,846.2 L600.5,845.4 L601.5,844.5 L602.5,843.7 L603.5,842.9 L604.5,842.1 L605.5,841.2 L606.5,840.4 L607.5,839.6 L608.5,838.8 L609.5,837.9 L610.5,837.1 L611.5,836.3 L612.5,835.5 L613.5,834.7 L614.5,833.8 L615.5,833.0 L616.5,832.2 L617.5,831.4 L618.5,830.6 L619.5,829.8 L620.5,828.9 L621.5,828.1 L622.5,827.3 L623.5,826.5 L624.5,825.7 L625.5,824.9 L626.5,824.1 L627.5,823.3 L628.5,822.5 L629.5,821.6 L630.5,820.8 L631.5,820.0 L632.5,819.2 L633.5,818.4 L634.5,817.6 L635.5,816.8 L636.5,816.0 L637.5,815.2 L638.5,814.4 L639.5,813.6 L640.5,812.8 L641.5,812.0 L642.5,811.2 L643.5,810.4 L644.5,809.6 L645.5,808.8 L646.5,808.0 L647.5,807.2 L648.5,806.4 L649.5,805.6 L650.5,804.9 L651.5,804.1 L652.5,803.3 L653.5,802.5 L654.5,801.7 L655.5,800.9 L656.5,800.1 L657.5,799.3 L658.5,798.5 L659.5,797.8 L660.5,797.0 L661.5,796.2 L662.5,795.4 L663.5,794.6 L664.5,793.8 L665.5,793.1 L666.5,792.3 L667.5,791.5 L668.5,790.7 L669.5,789.9 L670.5,789.2 L671.5,788.4 L672.5,787.6 L673.5,786.8 L674.5,786.1 L675.5,785.3 L676.5,784.5 L677.5,783.8 L678.5,783.0 L679.5,782.2 L680.5,781.4 L681.5,780.7 L682.5,779.9 L683.5,779.1 L684.5,778.4 L685.5,777.6 L686.5,776.8 L687.5,776.1 L688.5,775.3 L689.5,774.6 L690.5,773.8 L691.5,773.0 L692.5,772.3 L693.5,771.5 L694.5,770.8 L695.5,770.0 L696.5,769.3 L697.5,768.5 L698.5,767.7 L699.5,767.0 L700.5,766.2 L701.5,765.5 L702.5,764.7 L703.5,764.0 L704.5,763.2 L705.5,762.5 L706.5,761.7 L707.5,761.0 L708.5,760.3 L709.5,759.5 L710.5,758.8 L711.5,758.0 L712.5,757.3 L713.5,756.5 L714.5,755.8 L715.5,755.1 L716.5,754.3 L717.5,753.6 L718.5,752.9 L719.5,752.1 L720.5,751.4 L721.5,750.6 L722.5,749.9 L723.5,749.2 L724.5,748.4 L725.5,747.7 L726.5,747.0 L727.5,746.3 L728.5,745.5 L729.5,744.8 L730.5,744.1 L731.5,743.3 L732.5,742.6 L733.5,741.9 L734.5,741.2 L735.5,740.4 L736.5,739.7 L737.5,739.0 L738.5,738.3 L739.5,737.6 L740.5,736.8 L741.5,736.1 L742.5,735.4 L743.5,734.7 L744.5,734.0 L745.5,733.3 L746.5,732.5 L747.5,731.8 L748.5,731.1 L749.5,730.4 L750.5,729.7 L751.5,729.0 L752.5,728.3 L753.5,727.6 L754.5,726.8 L755.5,726.1 L756.5,725.4 L757.5,724.7 L758.5,724.0 L759.5,723.3 L760.5,722.6 L761.5,721.9 L762.5,721.2 L763.5,720.5 L764.5,719.8 L765.5,719.1 L766.5,718.4 L767.5,717.7 L768.5,717.0 L769.5,716.3 L770.5,715.6 L771.5,714.9 L772.5,714.2 L773.5,713.5 L774.5,712.8 L775.5,712.1 L776.5,711.4 L777.5,710.7 L778.5,710.0 L779.5,709.4 L780.5,708.7 L781.5,708.0 L782.5,707.3 L783.5,706.6 L784.5,705.9 L785.5,705.2 L786.5,704.5 L787.5,703.9 L788.5,703.2 L789.5,702.5 L790.5,701.8 L791.5,701.1 L792.5,700.4 L793.5,699.8 L794.5,699.1 L795.5,698.4 L796.5,697.7 L797.5,697.0 L798.5,696.4 L799.5,695.7 L800.5,695.0 L801.5,694.3 L802.5,693.7 L803.5,693.0 L804.5,692.3 L805.5,691.6 L806.5,691.0 L807.5,690.3 L808.5,689.6 L809.5,688.9 L810.5,688.3 L811.5,687.6 L812.5,686.9 L813.5,686.3 L814.5,685.6 L815.5,684.9 L816.5,684.3 L817.5,683.6 L818.5,682.9 L819.5,682.3 L820.5,681.6 L821.5,680.9 L822.5,680.3 L823.5,679.6 L824.5,678.9 L825.5,678.3 L826.5,677.6 L827.5,677.0 L828.5,676.3 L829.5,675.6 L830.5,675.0 L831.5,674.3 L832.5,673.7 L833.5,673.0 L834.5,672.4 L835.5,671.7 L836.5,671.0 L837.5,670.4 L838.5,669.7 L839.5,669.1 L840.5,668.4 L841.5,667.8 L842.5,667.1 L843.5,666.5 L844.5,665.8 L845.5,665.2 L846.5,664.5 L847.5,663.9 L848.5,663.2 L849.5,662.6 L850.5,661.9 L851.5,661.3 L852.5,660.6 L853.5,660.0 L854.5,659.3 L855.5,658.7 L856.5,658.1 L857.5,657.4 L858.5,656.8 L859.5,656.1 L860.5,655.5 L861.5,654.8 L862.5,654.2 L863.5,653.6 L864.5,652.9 L865.5,652.3 L866.5,651.6 L867.5,651.0 L868.5,650.4 L869.5,649.7 L870.5,649.1 L871.5,648.5 L872.5,647.8 L873.5,647.2 L874.5,646.6 L875.5,645.9 L876.5,645.3 L877.5,644.6 L878.5,644.0 L879.5,643.4 L880.5,642.8 L881.5,642.1 L882.5,641.5 L883.5,640.9 L884.5,640.2 L885.5,639.6 L886.5,639.0 L887.5,638.3 L888.5,637.7 L889.5,637.1 L890.5,636.5 L891.5,635.8 L892.5,635.2 L893.5,634.6 L894.5,634.0 L895.5,633.3 L896.5,632.7 L897.5,632.1 L898.5,631.5 L899.5,630.8 L900.5,630.2 L901.5,629.6 L902.5,629.0 L903.5,628.3 L904.5,627.7 L905.5,627.1 L906.5,626.5 L907.5,625.9 L908.5,625.2 L909.5,624.6 L910.5,624.0 L911.5,623.4 L912.5,622.8 L913.5,622.2 L914.5,621.5 L915.5,620.9 L916.5,620.3 L917.5,619.7 L918.5,619.1 L919.5,618.5 L920.5,617.8 L921.5,617.2 L922.5,616.6 L923.5,616.0 L924.5,615.4 L925.5,614.8 L926.5,614.2 L927.5,613.6 L928.5,613.0 L929.5,612.4 L930.5,611.7 L931.5,611.1 L932.5,610.5 L933.5,609.9 L934.5,609.3 L935.5,608.7 L936.5,608.1 L937.5,607.5 L938.5,606.9 L939.5,606.3 L940.5,605.7 L941.5,605.1 L942.5,604.5 L943.5,603.9 L944.5,603.3 L945.5,602.7 L946.5,602.1 L947.5,601.5 L948.5,600.9 L949.5,600.3 L950.5,599.7 L951.5,599.1 L952.5,598.5 L953.5,597.9 L954.5,597.4 L955.5,596.8 L956.5,596.2 L957.5,595.6 L958.5,595.0 L959.5,594.4 L960.5,593.8 L961.5,593.2 L962.5,592.6 L963.5,592.1 L964.5,591.5 L965.5,590.9 L966.5,590.3 L967.5,589.7 L968.5,589.1 L969.5,588.6 L970.5,588.0 L971.5,587.4 L972.5,586.8 L973.5,586.2 L974.5,585.7 L975.5,585.1 L976.5,584.5 L977.5,583.9 L978.5,583.4 L979.5,582.8 L980.5,582.2 L981.5,581.7 L982.5,581.1 L983.5,580.5 L984.5,579.9 L985.5,579.4 L986.5,578.8 L987.5,578.2 L988.5,577.7 L989.5,577.1 L990.5,576.6 L991.5,576.0 L992.5,575.4 L993.5,574.9 L994.5,574.3 L995.5,573.8 L996.5,573.2 L997.5,572.6 L998.5,572.1 L999.5,571.5 L1000.5,571.0 L1001.5,570.4 L1002.5,569.9 L1003.5,569.3 L1004.5,568.8 L1005.5,568.2 L1006.5,567.7 L1007.5,567.1 L1008.5,566.6 L1009.5,566.0 L1010.5,565.5 L1011.5,564.9 L1012.5,564.4 L1013.5,563.9 L1014.5,563.3 L1015.5,562.8 L1016.5,562.2 L1017.5,561.7 L1018.5,561.2 L1019.5,560.6 L1020.5,560.1 L1021.5,559.6 L1022.5,559.0 L1023.5,558.5 L1024.5,558.0 L1025.5,557.4 L1026.5,556.9 L1027.5,556.4 L1028.5,555.9 L1029.5,555.3 L1030.5,554.8 L1031.5,554.3 L1032.5,553.8 L1033.5,553.2 L1034.5,552.7 L1035.5,552.2 L1036.5,551.7 L1037.5,551.2 L1038.5,550.7 L1039.5,550.1 L1040.5,549.6 L1041.5,549.1 L1042.5,548.6 L1043.5,548.1 L1044.5,547.6 L1045.5,547.1 L1046.5,546.6 L1047.5,546.1 L1048.5,545.6 L1049.5,545.1 L1050.5,544.6 L1051.5,544.1 L1052.5,543.6 L1053.5,543.1 L1054.5,542.6 L1055.5,542.1 L1056.5,541.6 L1057.5,541.1 L1058.5,540.6 L1059.5,540.1 L1060.5,539.6 L1061.5,539.1 L1062.5,538.7 L1063.5,538.2 L1064.5,537.7 L1065.5,537.2 L1066.5,536.7 L1067.5,536.3 L1068.5,535.8 L1069.5,535.3 L1070.5,534.8 L1071.5,534.3 L1072.5,533.9 L1073.5,533.4 L1074.5,532.9 L1075.5,532.5 L1076.5,532.0 L1077.5,531.5 L1078.5,531.1 L1079.5,530.6 L1080.5,530.1 L1081.5,529.7 L1082.5,529.2 L1083.5,528.8 L1084.5,528.3 L1085.5,527.8 L1086.5,527.4 L1087.5,526.9 L1088.5,526.5 L1089.5,526.0 L1090.5,525.6 L1091.5,525.1 L1092.5,524.7 L1093.5,524.2 L1094.5,523.8 L1095.5,523.4 L1096.5,522.9 L1097.5,522.5 L1098.5,522.0 L1099.5,521.6 L1100.5,521.2 L1101.5,520.7 L1102.5,520.3 L1103.5,519.9 L1104.5,519.5 L1105.5,519.0 L1106.5,518.6 L1107.5,518.2 L1108.5,517.7 L1109.5,517.3 L1110.5,516.9 L1111.5,516.5 L1112.5,516.1 L1113.5,515.7 L1114.5,515.2 L1115.5,514.8 L1116.5,514.4 L1117.5,514.0 L1118.5,513.6 L1119.5,513.2 L1120.5,512.8 L1121.5,512.4 L1122.5,512.0 L1123.5,511.6 L1124.5,511.2 L1125.5,510.8 L1126.5,510.4 L1127.5,510.0 L1128.5,509.6 L1129.5,509.2 L1130.5,508.8 L1131.5,508.4 L1132.5,508.0 L1133.5,507.6 L1134.5,507.3 L1135.5,506.9 L1136.5,506.5 L1137.5,506.1 L1138.5,505.7 L1139.5,505.3 L1140.5,505.0 L1141.5,504.6 L1142.5,504.2 L1143.5,503.8 L1144.5,503.5 L1145.5,503.1 L1146.5,502.7 L1147.5,502.4 L1148.5,502.0 L1149.5,501.6 L1150.5,501.3 L1151.5,500.9 L1152.5,500.6 L1153.5,500.2 L1154.5,499.8 L1155.5,499.5 L1156.5,499.1 L1157.5,498.8 L1158.5,498.4 L1159.5,498.1 L1160.5,497.7 L1161.5,497.4 L1162.5,497.0 L1163.5,496.7 L1164.5,496.3 L1165.5,496.0 L1166.5,495.7 L1167.5,495.3 L1168.5,495.0 L1169.5,494.7 L1170.5,494.3 L1171.5,494.0 L1172.5,493.7 L1173.5,493.3 L1174.5,493.0 L1175.5,492.7 L1176.5,492.3 L1177.5,492.0 L1178.5,491.7 L1179.5,491.4 L1180.5,491.1 L1181.5,490.7 L1182.5,490.4 L1183.5,490.1 L1184.5,489.8 L1185.5,489.5 L1186.5,489.2 L1187.5,488.8 L1188.5,488.5 L1189.5,488.2 L1190.5,487.9 L1191.5,487.6 L1192.5,487.3 L1193.5,487.0 L1194.5,486.7 L1195.5,486.4 L1196.5,486.1 L1197.5,485.8 L1198.5,485.5 L1199.5,485.2 L1200.5,484.9 L1201.5,484.7 L1202.5,484.4 L1203.5,484.1 L1204.5,483.8 L1205.5,483.5 L1206.5,483.2 L1207.5,482.9 L1208.5,482.7 L1209.5,482.4 L1210.5,482.1 L1211.5,481.8 L1212.5,481.5 L1213.5,481.3 L1214.5,481.0 L1215.5,480.7 L1216.5,480.5 L1217.5,480.2 L1218.5,479.9 L1219.5,479.7 L1220.5,479.4 L1221.5,479.1 L1222.5,478.9 L1223.5,478.6 L1224.5,478.3 L1225.5,478.1 L1226.5,477.8 L1227.5,477.6 L1228.5,477.3 L1229.5,477.1 L1230.5,476.8 L1231.5,476.6 L1232.5,476.3 L1233.5,476.1 L1234.5,475.8 L1235.5,475.6 L1236.5,475.3 L1237.5,475.1 L1238.5,474.8 L1239.5,474.6 L1240.5,474.4 L1241.5,474.1 L1242.5,473.9 L1243.5,473.6 L1244.5,473.4 L1245.5,473.2 L1246.5,472.9 L1247.5,472.7 L1248.5,472.5 L1249.5,472.3 L1250.5,472.0 L1251.5,471.8 L1252.5,471.6 L1253.5,471.4 L1254.5,471.1 L1255.5,470.9 L1256.5,470.7 L1257.5,470.5 L1258.5,470.3 L1259.5,470.0 L1260.5,469.8 L1261.5,469.6 L1262.5,469.4 L1263.5,469.2 L1264.5,469.0 L1265.5,468.8 L1266.5,468.6 L1267.5,468.3 L1268.5,468.1 L1269.5,467.9 L1270.5,467.7 L1271.5,467.5 L1272.5,467.3 L1273.5,467.1 L1274.5,466.9 L1275.5,466.7 L1276.5,466.5 L1277.5,466.3 L1278.5,466.1 L1279.5,465.9 L1280.5,465.7 L1281.5,465.6 L1282.5,465.4 L1283.5,465.2 L1284.5,465.0 L1285.5,464.8 L1286.5,464.6 L1287.5,464.4 L1288.5,464.2 L1289.5,464.1 L1290.5,463.9 L1291.5,463.7 L1292.5,463.5 L1293.5,463.3 L1294.5,463.2 L1295.5,463.0 L1296.5,462.8 L1297.5,462.6 L1298.5,462.4 L1299.5,462.3 L1300.5,462.1 L1301.5,461.9 L1302.5,461.8 L1303.5,461.6 L1304.5,461.4 L1305.5,461.3 L1306.5,461.1 L1307.5,460.9 L1308.5,460.8 L1309.5,460.6 L1310.5,460.4 L1311.5,460.3 L1312.5,460.1 L1313.5,459.9 L1314.5,459.8 L1315.5,459.6 L1316.5,459.5 L1317.5,459.3 L1318.5,459.2 L1319.5,459.0 L1320.5,458.9 L1321.5,458.7 L1322.5,458.5 L1323.5,458.4 L1324.5,458.2 L1325.5,458.1 L1326.5,457.9 L1327.5,457.8 L1328.5,457.7 L1329.5,457.5 L1330.5,457.4 L1331.5,457.2 L1332.5,457.1 L1333.5,456.9 L1334.5,456.8 L1335.5,456.7 L1336.5,456.5 L1337.5,456.4 L1338.5,456.2 L1339.5,456.1 L1340.5,456.0 L1341.5,455.8 L1342.5,455.7 L1343.5,455.6 L1344.5,455.4 L1345.5,455.3 L1346.5,455.2 L1347.5,455.0 L1348.5,454.9 L1349.5,454.8 L1350.5,454.6 L1351.5,454.5 L1352.5,454.4 L1353.5,454.3 L1354.5,454.1 L1355.5,454.0 L1356.5,453.9 L1357.5,453.8 L1358.5,453.6 L1359.5,453.5 L1360.5,453.4 L1361.5,453.3 L1362.5,453.2 L1363.5,453.0 L1364.5,452.9 L1365.5,452.8 L1366.5,452.7 L1367.5,452.6 L1368.5,452.5 L1369.5,452.3 L1370.5,452.2 L1371.5,452.1 L1372.5,452.0 L1373.5,451.9 L1374.5,451.8 L1375.5,451.7 L1376.5,451.6 L1377.5,451.5 L1378.5,451.3 L1379.5,451.2 L1380.5,451.1 L1381.5,451.0 L1382.5,450.9 L1383.5,450.8 L1384.5,450.7 L1385.5,450.6 L1386.5,450.5 L1387.5,450.4 L1388.5,450.3 L1389.5,450.2 L1390.5,450.1 L1391.5,450.0 L1392.5,449.9 L1393.5,449.8 L1394.5,449.7 L1395.5,449.6 L1396.5,449.5 L1397.5,449.4 L1398.5,449.3 L1399.5,449.2 L1400.5,449.1 L1401.5,449.0 L1402.5,448.9 L1403.5,448.9 L1404.5,448.8 L1405.5,448.7 L1406.5,448.6 L1407.5,448.5 L1408.5,448.4 L1409.5,448.3 L1410.5,448.2 L1411.5,448.1 L1412.5,448.0 L1413.5,448.0 L1414.5,447.9 L1415.5,447.8 L1416.5,447.7 L1417.5,447.6 L1418.5,447.5 L1419.5,447.4 L1420.5,447.4 L1421.5,447.3 L1422.5,447.2 L1423.5,447.1 L1424.5,447.0 L1425.5,446.9 L1426.5,446.9 L1427.5,446.8 L1428.5,446.7 L1429.5,446.6 L1430.5,446.5 L1431.5,446.5 L1432.5,446.4 L1433.5,446.3 L1434.5,446.2 L1435.5,446.2 L1436.5,446.1 L1437.5,446.0 L1438.5,445.9 L1439.5,445.9 L1440.5,445.8 L1441.5,445.7 L1442.5,445.6 L1443.5,445.6 L1444.5,445.5 L1445.5,445.4 L1446.5,445.3 L1447.5,445.3 L1448.5,445.2 L1449.5,445.1 L1450.5,445.1 L1451.5,445.0 L1452.5,444.9 L1453.5,444.8 L1454.5,444.8 L1455.5,444.7 L1456.5,444.6 L1457.5,444.6 L1458.5,444.5 L1459.5,444.4 L1460.5,444.4 L1461.5,444.3 L1462.5,444.2 L1463.5,444.2 L1464.5,444.1 L1465.5,444.0 L1466.5,444.0 L1467.5,443.9 L1468.5,443.8 L1469.5,443.8 L1470.5,443.7 L1471.5,443.6 L1472.5,443.6 L1473.5,443.5 L1474.5,443.5 L1475.5,443.4 L1476.5,443.3 L1477.5,443.3 L1478.5,443.2 L1479.5,443.1 L1480.5,443.1 L1481.5,443.0 L1482.5,443.0 L1483.5,442.9 L1484.5,442.8 L1485.5,442.8 L1486.5,442.7 L1487.5,442.7 L1488.5,442.6 L1489.5,442.5 L1490.5,442.5 L1491.5,442.4 L1492.5,442.4 L1493.5,442.3 L1494.5,442.2 L1495.5,442.2 L1496.5,442.1 L1497.5,442.1 L1498.5,442.0 L1499.5,441.9 L1500.5,441.9 L1501.5,441.8 L1502.5,441.8 L1503.5,441.7 L1504.5,441.7 L1505.5,441.6 L1506.5,441.5 L1507.5,441.5 L1508.5,441.4 L1509.5,441.4 L1510.5,441.3 L1511.5,441.3 L1512.5,441.2 L1513.5,441.2 L1514.5,441.1 L1515.5,441.0 L1516.5,441.0 L1517.5,440.9 L1518.5,440.9 L1519.5,440.8 L1520.5,440.8 L1521.5,440.7 L1522.5,440.7 L1523.5,440.6 L1524.5,440.6 L1525.5,440.5 L1526.5,440.5 L1527.5,440.4 L1528.5,440.3 L1529.5,440.3 L1530.5,440.2 L1531.5,440.2 L1532.5,440.1 L1533.5,440.1 L1534.5,440.0 L1535.5,440.0 L1536.5,439.9 L1537.5,439.9 L1538.5,439.8 L1539.5,439.8 L1540.5,439.7 L1541.5,439.7 L1542.5,439.6 L1543.5,439.6 L1544.5,439.5 L1545.5,439.5 L1546.5,439.4 L1547.5,439.4 L1548.5,439.3 L1549.5,439.3 L1550.5,439.2 L1551.5,439.2 L1552.5,439.1 L1553.5,439.1 L1554.5,439.0 L1555.5,439.0 L1556.5,438.9 L1557.5,438.9 L1558.5,438.8 L1559.5,438.8 L1560.5,438.7 L1561.5,438.7 L1562.5,438.6 L1563.5,438.6 L1564.5,438.5 L1565.5,438.5 L1566.5,438.4 L1567.5,438.4 L1568.5,438.4 L1569.5,438.3 L1570.5,438.3 L1571.5,438.2 L1572.5,438.2 L1573.5,438.1 L1574.5,438.1 L1575.5,438.0 L1576.5,438.0 L1577.5,437.9 L1578.5,437.9 L1579.5,437.9 L1580.5,437.8 L1581.5,437.8 L1582.5,437.7 L1583.5,437.7 L1584.5,437.6 L1585.5,437.6 L1586.5,437.5 L1587.5,437.5 L1588.5,437.5 L1589.5,437.4 L1590.5,437.4 L1591.5,437.3 L1592.5,437.3 L1593.5,437.2 L1594.5,437.2 L1595.5,437.2 L1596.5,437.1 L1597.5,437.1 L1598.5,437.0 L1599.5,437.0 L1600.5,436.9 L1601.5,436.9 L1602.5,436.9 L1603.5,436.8 L1604.5,436.8 L1605.5,436.7 L1606.5,436.7 L1607.5,436.7 L1608.5,436.6 L1609.5,436.6 L1610.5,436.5 L1611.5,436.5 L1612.5,436.5 L1613.5,436.4 L1614.5,436.4 L1615.5,436.3 L1616.5,436.3 L1617.5,436.3 L1618.5,436.2 L1619.5,436.2 L1620.5,436.1 L1621.5,436.1 L1622.5,436.1 L1623.5,436.0 L1624.5,436.0 L1625.5,436.0 L1626.5,435.9 L1627.5,435.9 L1628.5,435.8 L1629.5,435.8 L1630.5,435.8 L1631.5,435.7 L1632.5,435.7 L1633.5,435.7 L1634.5,435.6 L1635.5,435.6 L1636.5,435.5 L1637.5,435.5 L1638.5,435.5 L1639.5,435.4 L1640.5,435.4 L1641.5,435.4 L1642.5,435.3 L1643.5,435.3 L1644.5,435.3 L1645.5,435.2 L1646.5,435.2 L1647.5,435.2 L1648.5,435.1 L1649.5,435.1 L1650.5,435.1 L1651.5,435.0 L1652.5,435.0 L1653.5,435.0 L1654.5,434.9 L1655.5,434.9 L1656.5,434.9 L1657.5,434.8 L1658.5,434.8 L1659.5,434.8 L1660.5,434.7 L1661.5,434.7 L1662.5,434.7 L1663.5,434.6 L1664.5,434.6 L1665.5,434.6 L1666.5,434.5 L1667.5,434.5 L1668.5,434.5 L1669.5,434.5 L1670.5,434.4 L1671.5,434.4 L1672.5,434.4 L1673.5,434.3 L1674.5,434.3 L1675.5,434.3 L1676.5,434.2 L1677.5,434.2 L1678.5,434.2 L1679.5,434.2 L1680.5,434.1 L1681.5,434.1 L1682.5,434.1 L1683.5,434.0 L1684.5,434.0 L1685.5,434.0 L1686.5,433.9 L1687.5,433.9 L1688.5,433.9 L1689.5,433.9 L1690.5,433.8 L1691.5,433.8 L1692.5,433.8 L1693.5,433.8 L1694.5,433.7 L1695.5,433.7 L1696.5,433.7 L1697.5,433.6 L1698.5,433.6 L1699.5,433.6 L1700.5,433.6 L1701.5,433.5 L1702.5,433.5 L1703.5,433.5 L1704.5,433.5 L1705.5,433.4 L1706.5,433.4 L1707.5,433.4 L1708.5,433.4 L1709.5,433.3 L1710.5,433.3 L1711.5,433.3 L1712.5,433.3 L1713.5,433.2 L1714.5,433.2 L1715.5,433.2 L1716.5,433.2 L1717.5,433.2 L1718.5,433.1 L1719.5,433.1 L1720.5,433.1 L1721.5,433.1 L1722.5,433.0 L1723.5,433.0 L1724.5,433.0 L1725.5,433.0 L1726.5,432.9 L1727.5,432.9 L1728.5,432.9 L1729.5,432.9 L1730.5,432.9 L1731.5,432.8 L1732.5,432.8 L1733.5,432.8 L1734.5,432.8 L1735.5,432.8 L1736.5,432.7 L1737.5,432.7 L1738.5,432.7 L1739.5,432.7 L1740.5,432.7 L1741.5,432.6 L1742.5,432.6 L1743.5,432.6 L1744.5,432.6 L1745.5,432.6 L1746.5,432.5 L1747.5,432.5 L1748.5,432.5 L1749.5,432.5 L1750.5,432.5 L1751.5,432.4 L1752.5,432.4 L1753.5,432.4 L1754.5,432.4 L1755.5,432.4 L1756.5,432.4 L1757.5,432.3 L1758.5,432.3 L1759.5,432.3 L1760.5,432.3 L1761.5,432.3 L1762.5,432.3 L1763.5,432.2 L1764.5,432.2 L1765.5,432.2 L1766.5,432.2 L1767.5,432.2 L1768.5,432.2 L1769.5,432.1 L1770.5,432.1 L1771.5,432.1 L1772.5,432.1 L1773.5,432.1 L1774.5,432.1 L1775.5,432.0 L1776.5,432.0 L1777.5,432.0 L1778.5,432.0 L1779.5,432.0 L1780.5,432.0 L1781.5,432.0 L1782.5,431.9 L1783.5,431.9" stroke="#04ff04"/>
<path d="M287.5,1124.8 L288.5,1123.4 L289.5,1122.0 L290.5,1120.5 L291.5,1119.1 L292.5,1117.7 L293.5,1116.2 L294.5,1114.8 L295.5,1113.3 L296.5,1111.9 L297.5,1110.4 L298.5,1108.9 L299.5,1107.5 L300.5,1106.0 L301.5,1104.5 L302.5,1103.0 L303.5,1101.5 L304.5,1100.0 L305.5,1098.5 L306.5,1097.0 L307.5,1095.5 L308.5,1094.0 L309.5,1092.5 L310.5,1091.0 L311.5,1089.5 L312.5,1088.0 L313.5,1086.5 L314.5,1085.0 L315.5,1083.4 L316.5,1081.9 L317.5,1080.4 L318.5,1078.8 L319.5,1077.3 L320.5,1075.8 L321.5,1074.2 L322.5,1072.7 L323.5,1071.2 L324.5,1069.6 L325.5,1068.1 L326.5,1066.5 L327.5,1065.0 L328.5,1063.4 L329.5,1061.9 L330.5,1060.3 L331.5,1058.8 L332.5,1057.2 L333.5,1055.7 L334.5,1054.1 L335.5,1052.5 L336.5,1051.0 L337.5,1049.4 L338.5,1047.9 L339.5,1046.3 L340.5,1044.8 L341.5,1043.2 L342.5,1041.6 L343.5,1040.1 L344.5,1038.5 L345.5,1037.0 L346.5,1035.4 L347.5,1033.8 L348.5,1032.3 L349.5,1030.7 L350.5,1029.2 L351.5,1027.6 L352.5,1026.1 L353.5,1024.5 L354.5,1022.9 L355.5,1021.4 L356.5,1019.8 L357.5,1018.3 L358.5,1016.7 L359.5,1015.2 L360.5,1013.6 L361.5,1012.1 L362.5,1010.5 L363.5,1009.0 L364.5,1007.4 L365.5,1005.9 L366.5,1004.4 L367.5,1002.8 L368.5,1001.3 L369.5,999.8 L370.5,998.2 L371.5,996.7 L372.5,995.2 L373.5,993.7 L374.5,992.1 L375.5,990.6 L376.5,989.1 L377.5,987.6 L378.5,986.1 L379.5,984.6 L380.5,983.0 L381.5,981.5 L382.5,980.0 L383.5,978.5 L384.5,977.0 L385.5,975.5 L386.5,974.0 L387.5,972.5 L388.5,971.0 L389.5,969.5 L390.5,968.1 L391.5,966.6 L392.5,965.1 L393.5,963.6 L394.5,962.1 L395.5,960.6 L396.5,959.1 L397.5,957.7 L398.5,956.2 L399.5,954.7 L400.5,953.3 L401.5,951.8 L402.5,950.3 L403.5,948.8 L404.5,947.4 L405.5,945.9 L406.5,944.5 L407.5,943.0 L408.5,941.5 L409.5,940.1 L410.5,938.6 L411.5,937.2 L412.5,935.7 L413.5,934.3 L414.5,932.8 L415.5,931.4 L416.5,929.9 L417.5,928.5 L418.5,927.1 L419.5,925.6 L420.5,924.2 L421.5,922.7 L422.5,921.3 L423.5,919.9 L424.5,918.5 L425.5,917.0 L426.5,915.6 L427.5,914.2 L428.5,912.7 L429.5,911.3 L430.5,909.9 L431.5,908.5 L432.5,907.1 L433.5,905.6 L434.5,904.2 L435.5,902.8 L436.5,901.4 L437.5,900.0 L438.5,898.6 L439.5,897.2 L440.5,895.7 L441.5,894.3 L442.5,892.9 L443.5,891.5 L444.5,890.1 L445.5,888.7 L446.5,887.3 L447.5,885.9 L448.5,884.5 L449.5,883.1 L450.5,881.7 L451.5,880.3 L452.5,879.0 L453.5,877.6 L454.5,876.2 L455.5,874.8 L456.5,873.4 L457.5,872.0 L458.5,870.6 L459.5,869.2 L460.5,867.9 L461.5,866.5 L462.5,865.1 L463.5,863.7 L464.5,862.3 L465.5,861.0 L466.5,859.6 L467.5,858.2 L468.5,856.8 L469.5,855.5 L470.5,854.1 L471.5,852.7 L472.5,851.3 L473.5,850.0 L474.5,848.6 L475.5,847.2 L476.5,845.9 L477.5,844.5 L478.5,843.1 L479.5,841.8 L480.5,840.4 L481.5,839.1 L482.5,837.7 L483.5,836.3 L484.5,835.0 L485.5,833.6 L486.5,832.3 L487.5,830.9 L488.5,829.6 L489.5,828.2 L490.5,826.9 L491.5,825.5 L492.5,824.1 L493.5,822.8 L494.5,821.5 L495.5,820.1 L496.5,818.8 L497.5,817.4 L498.5,816.1 L499.5,814.7 L500.5,813.4 L501.5,812.0 L502.5,810.7 L503.5,809.4 L504.5,808.0 L505.5,806.7 L506.5,805.4 L507.5,804.0 L508.5,802.7 L509.5,801.4 L510.5,800.0 L511.5,798.7 L512.5,797.4 L513.5,796.1 L514.5,794.7 L515.5,793.4 L516.5,792.1 L517.5,790.8 L518.5,789.4 L519.5,788.1 L520.5,786.8 L521.5,785.5 L522.5,784.2 L523.5,782.8 L524.5,781.5 L525.5,780.2 L526.5,778.9 L527.5,777.6 L528.5,776.3 L529.5,775.0 L530.5,773.7 L531.5,772.4 L532.5,771.1 L533.5,769.8 L534.5,768.4 L535.5,767.1 L536.5,765.8 L537.5,764.5 L538.5,763.3 L539.5,762.0 L540.5,760.7 L541.5,759.4 L542.5,758.1 L543.5,756.8 L544.5,755.5 L545.5,754.2 L546.5,752.9 L547.5,751.6 L548.5,750.3 L549.5,749.1 L550.5,747.8 L551.5,746.5 L552.5,745.2 L553.5,743.9 L554.5,742.7 L555.5,741.4 L556.5,740.1 L557.5,738.8 L558.5,737.6 L559.5,736.3 L560.5,735.0 L561.5,733.7 L562.5,732.5 L563.5,731.2 L564.5,729.9 L565.5,728.7 L566.5,727.4 L567.5,726.2 L568.5,724.9 L569.5,723.6 L570.5,722.4 L571.5,721.1 L572.5,719.9 L573.5,718.6 L574.5,717.4 L575.5,716.1 L576.5,714.9 L577.5,713.6 L578.5,712.4 L579.5,711.1 L580.5,709.9 L581.5,708.6 L582.5,707.4 L583.5,706.2 L584.5,704.9 L585.5,703.7 L586.5,702.4 L587.5,701.2 L588.5,700.0 L589.5,698.7 L590.5,697.5 L591.5,696.3 L592.5,695.1 L593.5,693.8 L594.5,692.6 L595.5,691.4 L596.5,690.2 L597.5,688.9 L598.5,687.7 L599.5,686.5 L600.5,685.3 L601.5,684.1 L602.5,682.9 L603.5,681.7 L604.5,680.4 L605.5,679.2 L606.5,678.0 L607.5,676.8 L608.5,675.6 L609.5,674.4 L610.5,673.2 L611.5,672.0 L612.5,670.8 L613.5,669.6 L614.5,668.4 L615.5,667.3 L616.5,666.1 L617.5,664.9 L618.5,663.7 L619.5,662.5 L620.5,661.3 L621.5,660.1 L622.5,659.0 L623.5,657.8 L624.5,656.6 L625.5,655.4 L626.5,654.3 L627.5,653.1 L628.5,651.9 L629.5,650.8 L630.5,649.6 L631.5,648.4 L632.5,647.3 L633.5,646.1 L634.5,645.0 L635.5,643.8 L636.5,642.7 L637.5,641.5 L638.5,640.4 L639.5,639.2 L640.5,638.1 L641.5,636.9 L642.5,635.8 L643.5,634.6 L644.5,633.5 L645.5,632.4 L646.5,631.2 L647.5,630.1 L648.5,629.0 L649.5,627.9 L650.5,626.7 L651.5,625.6 L652.5,624.5 L653.5,623.4 L654.5,622.3 L655.5,621.1 L656.5,620.0 L657.5,618.9 L658.5,617.8 L659.5,616.7 L660.5,615.6 L661.5,614.5 L662.5,613.4 L663.5,612.3 L664.5,611.2 L665.5,610.1 L666.5,609.1 L667.5,608.0 L668.5,606.9 L669.5,605.8 L670.5,604.7 L671.5,603.6 L672.5,602.6 L673.5,601.5 L674.5,600.4 L675.5,599.4 L676.5,598.3 L677.5,597.2 L678.5,596.2 L679.5,595.1 L680.5,594.1 L681.5,593.0 L682.5,592.0 L683.5,590.9 L684.5,589.9 L685.5,588.8 L686.5,587.8 L687.5,586.8 L688.5,585.7 L689.5,584.7 L690.5,583.7 L691.5,582.6 L692.5,581.6 L693.5,580.6 L694.5,579.6 L695.5,578.6 L696.5,577.6 L697.5,576.5 L698.5,575.5 L699.5,574.5 L700.5,573.5 L701.5,572.5 L702.5,571.5 L703.5,570.5 L704.5,569.6 L705.5,568.6 L706.5,567.6 L707.5,566.6 L708.5,565.6 L709.5,564.6 L710.5,563.7 L711.5,562.7 L712.5,561.7 L713.5,560.8 L714.5,559.8 L715.5,558.9 L716.5,557.9 L717.5,556.9 L718.5,556.0 L719.5,555.0 L720.5,554.1 L721.5,553.2 L722.5,552.2 L723.5,551.3 L724.5,550.4 L725.5,549.4 L726.5,548.5 L727.5,547.6 L728.5,546.7 L729.5,545.7 L730.5,544.8 L731.5,543.9 L732.5,543.0 L733.5,542.1 L734.5,541.2 L735.5,540.3 L736.5,539.4 L737.5,538.5 L738.5,537.6 L739.5,536.8 L740.5,535.9 L741.5,535.0 L742.5,534.1 L743.5,533.3 L744.5,532.4 L745.5,531.5 L746.5,530.7 L747.5,529.8 L748.5,528.9 L749.5,528.1 L750.5,527.2 L751.5,526.4 L752.5,525.6 L753.5,524.7 L754.5,523.9 L755.5,523.1 L756.5,522.2 L757.5,521.4 L758.5,520.6 L759.5,519.8 L760.5,519.0 L761.5,518.1 L762.5,517.3 L763.5,516.5 L764.5,515.7 L765.5,514.9 L766.5,514.1 L767.5,513.4 L768.5,512.6 L769.5,511.8 L770.5,511.0 L771.5,510.2 L772.5,509.5 L773.5,508.7 L774.5,507.9 L775.5,507.2 L776.5,506.4 L777.5,505.7 L778.5,504.9 L779.5,504.2 L780.5,503.4 L781.5,502.7 L782.5,502.0 L783.5,501.2 L784.5,500.5 L785.5,499.8 L786.5,499.1 L787.5,498.3 L788.5,497.6 L789.5,496.9 L790.5,496.2 L791.5,495.5 L792.5,494.8 L793.5,494.1 L794.5,493.4 L795.5,492.8 L796.5,492.1 L797.5,491.4 L798.5,490.7 L799.5,490.1 L800.5,489.4 L801.5,488.7 L802.5,488.1 L803.5,487.4 L804.5,486.8 L805.5,486.1 L806.5,485.5 L807.5,484.8 L808.5,484.2 L809.5,483.5 L810.5,482.9 L811.5,482.3 L812.5,481.7 L813.5,481.0 L814.5,480.4 L815.5,479.8 L816.5,479.2 L817.5,478.6 L818.5,478.0 L819.5,477.4 L820.5,476.8 L821.5,476.2 L822.5,475.6 L823.5,475.0 L824.5,474.4 L825.5,473.8 L826.5,473.3 L827.5,472.7 L828.5,472.1 L829.5,471.5 L830.5,471.0 L831.5,470.4 L832.5,469.9 L833.5,469.3 L834.5,468.7 L835.5,468.2 L836.5,467.7 L837.5,467.1 L838.5,466.6 L839.5,466.0 L840.5,465.5 L841.5,465.0 L842.5,464.4 L843.5,463.9 L844.5,463.4 L845.5,462.9 L846.5,462.4 L847.5,461.8 L848.5,461.3 L849.5,460.8 L850.5,460.3 L851.5,459.8 L852.5,459.3 L853.5,458.8 L854.5,458.3 L855.5,457.8 L856.5,457.4 L857.5,456.9 L858.5,456.4 L859.5,455.9 L860.5,455.4 L861.5,455.0 L862.5,454.5 L863.5,454.0 L864.5,453.6 L865.5,453.1 L866.5,452.6 L867.5,452.2 L868.5,451.7 L869.5,451.3 L870.5,450.8 L871.5,450.4 L872.5,449.9 L873.5,449.5 L874.5,449.1 L875.5,448.6 L876.5,448.2 L877.5,447.8 L878.5,447.3 L879.5,446.9 L880.5,446.5 L881.5,446.1 L882.5,445.7 L883.5,445.2 L884.5,444.8 L885.5,444.4 L886.5,444.0 L887.5,443.6 L888.5,443.2 L889.5,442.8 L890.5,442.4 L891.5,442.0 L892.5,441.6 L893.5,441.2 L894.5,440.8 L895.5,440.4 L896.5,440.1 L897.5,439.7 L898.5,439.3 L899.5,438.9 L900.5,438.5 L901.5,438.2 L902.5,437.8 L903.5,437.4 L904.5,437.1 L905.5,436.7 L906.5,436.3 L907.5,436.0 L908.5,435.6 L909.5,435.3 L910.5,434.9 L911.5,434.6 L912.5,434.2 L913.5,433.9 L914.5,433.5 L915.5,433.2 L916.5,432.8 L917.5,432.5 L918.5,432.2 L919.5,431.8 L920.5,431.5 L921.5,431.2 L922.5,430.8 L923.5,430.5 L924.5,430.2 L925.5,429.9 L926.5,429.5 L927.5,429.2 L928.5,428.9 L929.5,428.6 L930.5,428.3 L931.5,428.0 L932.5,427.7 L933.5,427.3 L934.5,427.0 L935.5,426.7 L936.5,426.4 L937.5,426.1 L938.5,425.8 L939.5,425.5 L940.5,425.2 L941.5,424.9 L942.5,424.7 L943.5,424.4 L944.5,424.1 L945.5,423.8 L946.5,423.5 L947.5,423.2 L948.5,422.9 L949.5,422.7 L950.5,422.4 L951.5,422.1 L952.5,421.8 L953.5,421.5 L954.5,421.3 L955.5,421.0 L956.5,420.7 L957.5,420.5 L958.5,420.2 L959.5,419.9 L960.5,419.7 L961.5,419.4 L962.5,419.1 L963.5,418.9 L964.5,418.6 L965.5,418.4 L966.5,418.1 L967.5,417.9 L968.5,417.6 L969.5,417.3 L970.5,417.1 L971.5,416.8 L972.5,416.6 L973.5,416.4 L974.5,416.1 L975.5,415.9 L976.5,415.6 L977.5,415.4 L978.5,415.1 L979.5,414.9 L980.5,414.7 L981.5,414.4 L982.5,414.2 L983.5,413.9 L984.5,413.7 L985.5,413.5 L986.5,413.3 L987.5,413.0 L988.5,412.8 L989.5,412.6 L990.5,412.3 L991.5,412.1 L992.5,411.9 L993.5,411.7 L994.5,411.4 L995.5,411.2 L996.5,411.0 L997.5,410.8 L998.5,410.6 L999.5,410.3 L1000.5,410.1 L1001.5,409.9 L1002.5,409.7 L1003.5,409.5 L1004.5,409.3 L1005.5,409.0 L1006.5,408.8 L1007.5,408.6 L1008.5,408.4 L1009.5,408.2 L1010.5,408.0 L1011.5,407.8 L1012.5,407.6 L1013.5,407.4 L1014.5,407.2 L1015.5,407.0 L1016.5,406.8 L1017.5,406.6 L1018.5,406.4 L1019.5,406.2 L1020.5,406.0 L1021.5,405.8 L1022.5,405.6 L1023.5,405.4 L1024.5,405.2 L1025.5,405.0 L1026.5,404.8 L1027.5,404.6 L1028.5,404.4 L1029.5,404.2 L1030.5,404.0 L1031.5,403.8 L1032.5,403.6 L1033.5,403.4 L1034.5,403.2 L1035.5,403.1 L1036.5,402.9 L1037.5,402.7 L1038.5,402.5 L1039.5,402.3 L1040.5,402.1 L1041.5,402.0 L1042.5,401.8 L1043.5,401.6 L1044.5,401.4 L1045.5,401.2 L1046.5,401.1 L1047.5,400.9 L1048.5,400.7 L1049.5,400.5 L1050.5,400.3 L1051.5,400.2 L1052.5,400.0 L1053.5,399.8 L1054.5,399.7 L1055.5,399.5 L1056.5,399.3 L1057.5,399.1 L1058.5,399.0 L1059.5,398.8 L1060.5,398.6 L1061.5,398.5 L1062.5,398.3 L1063.5,398.1 L1064.5,398.0 L1065.5,397.8 L1066.5,397.6 L1067.5,397.5 L1068.5,397.3 L1069.5,397.2 L1070.5,397.0 L1071.5,396.8 L1072.5,396.7 L1073.5,396.5 L1074.5,396.4 L1075.5,396.2 L1076.5,396.1 L1077.5,395.9 L1078.5,395.7 L1079.5,395.6 L1080.5,395.4 L1081.5,395.3 L1082.5,395.1 L1083.5,395.0 L1084.5,394.8 L1085.5,394.7 L1086.5,394.5 L1087.5,394.4 L1088.5,394.2 L1089.5,394.1 L1090.5,394.0 L1091.5,393.8 L1092.5,393.7 L1093.5,393.5 L1094.5,393.4 L1095.5,393.2 L1096.5,393.1 L1097.5,393.0 L1098.5,392.8 L1099.5,392.7 L1100.5,392.5 L1101.5,392.4 L1102.5,392.3 L1103.5,392.1 L1104.5,392.0 L1105.5,391.8 L1106.5,391.7 L1107.5,391.6 L1108.5,391.4 L1109.5,391.3 L1110.5,391.2 L1111.5,391.0 L1112.5,390.9 L1113.5,390.8 L1114.5,390.7 L1115.5,390.5 L1116.5,390.4 L1117.5,390.3 L1118.5,390.1 L1119.5,390.0 L1120.5,389.9 L1121.5,389.8 L1122.5,389.6 L1123.5,389.5 L1124.5,389.4 L1125.5,389.3 L1126.5,389.1 L1127.5,389.0 L1128.5,388.9 L1129.5,388.8 L1130.5,388.7 L1131.5,388.5 L1132.5,388.4 L1133.5,388.3 L1134.5,388.2 L1135.5,388.1 L1136.5,388.0 L1137.5,387.8 L1138.5,387.7 L1139.5,387.6 L1140.5,387.5 L1141.5,387.4 L1142.5,387.3 L1143.5,387.2 L1144.5,387.1 L1145.5,386.9 L1146.5,386.8 L1147.5,386.7 L1148.5,386.6 L1149.5,386.5 L1150.5,386.4 L1151.5,386.3 L1152.5,386.2 L1153.5,386.1 L1154.5,386.0 L1155.5,385.9 L1156.5,385.8 L1157.5,385.7 L1158.5,385.5 L1159.5,385.4 L1160.5,385.3 L1161.5,385.2 L1162.5,385.1 L1163.5,385.0 L1164.5,384.9 L1165.5,384.8 L1166.5,384.7 L1167.5,384.6 L1168.5,384.5 L1169.5,384.4 L1170.5,384.3 L1171.5,384.2 L1172.5,384.1 L1173.5,384.1 L1174.5,384.0 L1175.5,383.9 L1176.5,383.8 L1177.5,383.7 L1178.5,383.6 L1179.5,383.5 L1180.5,383.4 L1181.5,383.3 L1182.5,383.2 L1183.5,383.1 L1184.5,383.0 L1185.5,382.9 L1186.5,382.8 L1187.5,382.8 L1188.5,382.7 L1189.5,382.6 L1190.5,382.5 L1191.5,382.4 L1192.5,382.3 L1193.5,382.2 L1194.5,382.1 L1195.5,382.1 L1196.5,382.0 L1197.5,381.9 L1198.5,381.8 L1199.5,381.7 L1200.5,381.6 L1201.5,381.6 L1202.5,381.5 L1203.5,381.4 L1204.5,381.3 L1205.5,381.2 L1206.5,381.1 L1207.5,381.1 L1208.5,381.0 L1209.5,380.9 L1210.5,380.8 L1211.5,380.7 L1212.5,380.7 L1213.5,380.6 L1214.5,380.5 L1215.5,380.4 L1216.5,380.4 L1217.5,380.3 L1218.5,380.2 L1219.5,380.1 L1220.5,380.1 L1221.5,380.0 L1222.5,379.9 L1223.5,379.8 L1224.5,379.8 L1225.5,379.7 L1226.5,379.6 L1227.5,379.5 L1228.5,379.5 L1229.5,379.4 L1230.5,379.3 L1231.5,379.3 L1232.5,379.2 L1233.5,379.1 L1234.5,379.0 L1235.5,379.0 L1236.5,378.9 L1237.5,378.8 L1238.5,378.8 L1239.5,378.7 L1240.5,378.6 L1241.5,378.6 L1242.5,378.5 L1243.5,378.4 L1244.5,378.4 L1245.5,378.3 L1246.5,378.2 L1247.5,378.2 L1248.5,378.1 L1249.5,378.0 L1250.5,378.0 L1251.5,377.9 L1252.5,377.8 L1253.5,377.8 L1254.5,377.7 L1255.5,377.7 L1256.5,377.6 L1257.5,377.5 L1258.5,377.5 L1259.5,377.4 L1260.5,377.3 L1261.5,377.3 L1262.5,377.2 L1263.5,377.2 L1264.5,377.1 L1265.5,377.0 L1266.5,377.0 L1267.5,376.9 L1268.5,376.9 L1269.5,376.8 L1270.5,376.7 L1271.5,376.7 L1272.5,376.6 L1273.5,376.6 L1274.5,376.5 L1275.5,376.5 L1276.5,376.4 L1277.5,376.3 L1278.5,376.3 L1279.5,376.2 L1280.5,376.2 L1281.5,376.1 L1282.5,376.1 L1283.5,376.0 L1284.5,376.0 L1285.5,375.9 L1286.5,375.8 L1287.5,375.8 L1288.5,375.7 L1289.5,375.7 L1290.5,375.6 L1291.5,375.6 L1292.5,375.5 L1293.5,375.5 L1294.5,375.4 L1295.5,375.4 L1296.5,375.3 L1297.5,375.3 L1298.5,375.2 L1299.5,375.2 L1300.5,375.1 L1301.5,375.1 L1302.5,375.0 L1303.5,375.0 L1304.5,374.9 L1305.5,374.9 L1306.5,374.8 L1307.5,374.8 L1308.5,374.7 L1309.5,374.7 L1310.5,374.6 L1311.5,374.6 L1312.5,374.5 L1313.5,374.5 L1314.5,374.4 L1315.5,374.4 L1316.5,374.3 L1317.5,374.3 L1318.5,374.2 L1319.5,374.2 L1320.5,374.1 L1321.5,374.1 L1322.5,374.0 L1323.5,374.0 L1324.5,373.9 L1325.5,373.9 L1326.5,373.9 L1327.5,373.8 L1328.5,373.8 L1329.5,373.7 L1330.5,373.7 L1331.5,373.6 L1332.5,373.6 L1333.5,373.5 L1334.5,373.5 L1335.5,373.4 L1336.5,373.4 L1337.5,373.4 L1338.5,373.3 L1339.5,373.3 L1340.5,373.2 L1341.5,373.2 L1342.5,373.1 L1343.5,373.1 L1344.5,373.1 L1345.5,373.0 L1346.5,373.0 L1347.5,372.9 L1348.5,372.9 L1349.5,372.8 L1350.5,372.8 L1351.5,372.8 L1352.5,372.7 L1353.5,372.7 L1354.5,372.6 L1355.5,372.6 L1356.5,372.6 L1357.5,372.5 L1358.5,372.5 L1359.5,372.4 L1360.5,372.4 L1361.5,372.4 L1362.5,372.3 L1363.5,372.3 L1364.5,372.2 L1365.5,372.2 L1366.5,372.2 L1367.5,372.1 L1368.5,372.1 L1369.5,372.1 L1370.5,372.0 L1371.5,372.0 L1372.5,371.9 L1373.5,371.9 L1374.5,371.9 L1375.5,371.8 L1376.5,371.8 L1377.5,371.8 L1378.5,371.7 L1379.5,371.7 L1380.5,371.6 L1381.5,371.6 L1382.5,371.6 L1383.5,371.5 L1384.5,371.5 L1385.5,371.5 L1386.5,371.4 L1387.5,371.4 L1388.5,371.4 L1389.5,371.3 L1390.5,371.3 L1391.5,371.3 L1392.5,371.2 L1393.5,371.2 L1394.5,371.2 L1395.5,371.1 L1396.5,371.1 L1397.5,371.1 L1398.5,371.0 L1399.5,371.0 L1400.5,371.0 L1401.5,370.9 L1402.5,370.9 L1403.5,370.9 L1404.5,370.8 L1405.5,370.8 L1406.5,370.8 L1407.5,370.7 L1408.5,370.7 L1409.5,370.7 L1410.5,370.6 L1411.5,370.6 L1412.5,370.6 L1413.5,370.6 L1414.5,370.5 L1415.5,370.5 L1416.5,370.5 L1417.5,370.4 L1418.5,370.4 L1419.5,370.4 L1420.5,370.3 L1421.5,370.3 L1422.5,370.3 L1423.5,370.3 L1424.5,370.2 L1425.5,370.2 L1426.5,370.2 L1427.5,370.1 L1428.5,370.1 L1429.5,370.1 L1430.5,370.1 L1431.5,370.0 L1432.5,370.0 L1433.5,370.0 L1434.5,369.9 L1435.5,369.9 L1436.5,369.9 L1437.5,369.9 L1438.5,369.8 L1439.5,369.8 L1440.5,369.8 L1441.5,369.8 L1442.5,369.7 L1443.5,369.7 L1444.5,369.7 L1445.5,369.6 L1446.5,369.6 L1447.5,369.6 L1448.5,369.6 L1449.5,369.5 L1450.5,369.5 L1451.5,369.5 L1452.5,369.5 L1453.5,369.4 L1454.5,369.4 L1455.5,369.4 L1456.5,369.4 L1457.5,369.3 L1458.5,369.3 L1459.5,369.3 L1460.5,369.3 L1461.5,369.2 L1462.5,369.2 L1463.5,369.2 L1464.5,369.2 L1465.5,369.2 L1466.5,369.1 L1467.5,369.1 L1468.5,369.1 L1469.5,369.1 L1470.5,369.0 L1471.5,369.0 L1472.5,369.0 L1473.5,369.0 L1474.5,368.9 L1475.5,368.9 L1476.5,368.9 L1477.5,368.9 L1478.5,368.9 L1479.5,368.8 L1480.5,368.8 L1481.5,368.8 L1482.5,368.8 L1483.5,368.8 L1484.5,368.7 L1485.5,368.7 L1486.5,368.7 L1487.5,368.7 L1488.5,368.7 L1489.5,368.6 L1490.5,368.6 L1491.5,368.6 L1492.5,368.6 L1493.5,368.6 L1494.5,368.5 L1495.5,368.5 L1496.5,368.5 L1497.5,368.5 L1498.5,368.5 L1499.5,368.4 L1500.5,368.4 L1501.5,368.4 L1502.5,368.4 L1503.5,368.4 L1504.5,368.3 L1505.5,368.3 L1506.5,368.3 L1507.5,368.3 L1508.5,368.3 L1509.5,368.3 L1510.5,368.2 L1511.5,368.2 L1512.5,368.2 L1513.5,368.2 L1514.5,368.2 L1515.5,368.1 L1516.5,368.1 L1517.5,368.1 L1518.5,368.1 L1519.5,368.1 L1520.5,368.1 L1521.5,368.0 L1522.5,368.0 L1523.5,368.0 L1524.5,368.0 L1525.5,368.0 L1526.5,368.0 L1527.5,367.9 L1528.5,367.9 L1529.5,367.9 L1530.5,367.9 L1531.5,367.9 L1532.5,367.9 L1533.5,367.9 L1534.5,367.8 L1535.5,367.8 L1536.5,367.8 L1537.5,367.8 L1538.5,367.8 L1539.5,367.8 L1540.5,367.7 L1541.5,367.7 L1542.5,367.7 L1543.5,367.7 L1544.5,367.7 L1545.5,367.7 L1546.5,367.7 L1547.5,367.6 L1548.5,367.6 L1549.5,367.6 L1550.5,367.6 L1551.5,367.6 L1552.5,367.6 L1553.5,367.6 L1554.5,367.5 L1555.5,367.5 L1556.5,367.5 L1557.5,367.5 L1558.5,367.5 L1559.5,367.5 L1560.5,367.5 L1561.5,367.5 L1562.5,367.4 L1563.5,367.4 L1564.5,367.4 L1565.5,367.4 L1566.5,367.4 L1567.5,367.4 L1568.5,367.4 L1569.5,367.4 L1570.5,367.3 L1571.5,367.3 L1572.5,367.3 L1573.5,367.3 L1574.5,367.3 L1575.5,367.3 L1576.5,367.3 L1577.5,367.3 L1578.5,367.2 L1579.5,367.2 L1580.5,367.2 L1581.5,367.2 L1582.5,367.2 L1583.5,367.2 L1584.5,367.2 L1585.5,367.2 L1586.5,367.2 L1587.5,367.2 L1588.5,367.1 L1589.5,367.1 L1590.5,367.1 L1591.5,367.1 L1592.5,367.1 L1593.5,367.1 L1594.5,367.1 L1595.5,367.1 L1596.5,367.1 L1597.5,367.0 L1598.5,367.0 L1599.5,367.0 L1600.5,367.0 L1601.5,367.0 L1602.5,367.0 L1603.5,367.0 L1604.5,367.0 L1605.5,367.0 L1606.5,367.0 L1607.5,366.9 L1608.5,366.9 L1609.5,366.9 L1610.5,366.9 L1611.5,366.9 L1612.5,366.9 L1613.5,366.9 L1614.5,366.9 L1615.5,366.9 L1616.5,366.9 L1617.5,366.9 L1618.5,366.9 L1619.5,366.8 L1620.5,366.8 L1621.5,366.8 L1622.5,366.8 L1623.5,366.8 L1624.5,366.8 L1625.5,366.8 L1626.5,366.8 L1627.5,366.8 L1628.5,366.8 L1629.5,366.8 L1630.5,366.8 L1631.5,366.7 L1632.5,366.7 L1633.5,366.7 L1634.5,366.7 L1635.5,366.7 L1636.5,366.7 L1637.5,366.7 L1638.5,366.7 L1639.5,366.7 L1640.5,366.7 L1641.5,366.7 L1642.5,366.7 L1643.5,366.7 L1644.5,366.6 L1645.5,366.6 L1646.5,366.6 L1647.5,366.6 L1648.5,366.6 L1649.5,366.6 L1650.5,366.6 L1651.5,366.6 L1652.5,366.6 L1653.5,366.6 L1654.5,366.6 L1655.5,366.6 L1656.5,366.6 L1657.5,366.6 L1658.5,366.5 L1659.5,366.5 L1660.5,366.5 L1661.5,366.5 L1662.5,366.5 L1663.5,366.5 L1664.5,366.5 L1665.5,366.5 L1666.5,366.5 L1667.5,366.5 L1668.5,366.5 L1669.5,366.5 L1670.5,366.5 L1671.5,366.5 L1672.5,366.5 L1673.5,366.5 L1674.5,366.4 L1675.5,366.4 L1676.5,366.4 L1677.5,366.4 L1678.5,366.4 L1679.5,366.4 L1680.5,366.4 L1681.5,366.4 L1682.5,366.4 L1683.5,366.4 L1684.5,366.4 L1685.5,366.4 L1686.5,366.4 L1687.5,366.4 L1688.5,366.4 L1689.5,366.4 L1690.5,366.4 L1691.5,366.4 L1692.5,366.3 L1693.5,366.3 L1694.5,366.3 L1695.5,366.3 L1696.5,366.3 L1697.5,366.3 L1698.5,366.3 L1699.5,366.3 L1700.5,366.3 L1701.5,366.3 L1702.5,366.3 L1703.5,366.3 L1704.5,366.3 L1705.5,366.3 L1706.5,366.3 L1707.5,366.3 L1708.5,366.3 L1709.5,366.3 L1710.5,366.3 L1711.5,366.2 L1712.5,366.2 L1713.5,366.2 L1714.5,366.2 L1715.5,366.2 L1716.5,366.2 L1717.5,366.2 L1718.5,366.2 L1719.5,366.2 L1720.5,366.2 L1721.5,366.2 L1722.5,366.2 L1723.5,366.2 L1724.5,366.2 L1725.5,366.2 L1726.5,366.2 L1727.5,366.2 L1728.5,366.2 L1729.5,366.2 L1730.5,366.2 L1731.5,366.1 L1732.5,366.1 L1733.5,366.1 L1734.5,366.1 L1735.5,366.1 L1736.5,366.1 L1737.5,366.1 L1738.5,366.1 L1739.5,366.1 L1740.5,366.1 L1741.5,366.1 L1742.5,366.1 L1743.5,366.1 L1744.5,366.1 L1745.5,366.1 L1746.5,366.1 L1747.5,366.1 L1748.5,366.1 L1749.5,366.1 L1750.5,366.1 L1751.5,366.1 L1752.5,366.1 L1753.5,366.0 L1754.5,366.0 L1755.5,366.0 L1756.5,366.0 L1757.5,366.0 L1758.5,366.0 L1759.5,366.0 L1760.5,366.0 L1761.5,366.0 L1762.5,366.0 L1763.5,366.0 L1764.5,366.0 L1765.5,366.0 L1766.5,366.0 L1767.5,366.0 L1768.5,366.0 L1769.5,366.0 L1770.5,366.0 L1771.5,366.0 L1772.5,366.0 L1773.5,366.0 L1774.5,365.9 L1775.5,365.9 L1776.5,365.9 L1777.5,365.9 L1778.5,365.9 L1779.5,365.9 L1780.5,365.9 L1781.5,365.9 L1782.5,365.9 L1783.5,365.9" stroke="#1b6ddc"/>
<path d="M287.5,1128.4 L288.5,1126.7 L289.5,1124.9 L290.5,1123.1 L291.5,1121.2 L292.5,1119.2 L293.5,1117.2 L294.5,1115.1 L295.5,1113.0 L296.5,1110.8 L297.5,1108.6 L298.5,1106.3 L299.5,1104.0 L300.5,1101.7 L301.5,1099.3 L302.5,1096.9 L303.5,1094.4 L304.5,1091.9 L305.5,1089.4 L306.5,1086.9 L307.5,1084.4 L308.5,1081.8 L309.5,1079.2 L310.5,1076.6 L311.5,1074.0 L312.5,1071.3 L313.5,1068.7 L314.5,1066.0 L315.5,1063.3 L316.5,1060.6 L317.5,1057.9 L318.5,1055.1 L319.5,1052.4 L320.5,1049.6 L321.5,1046.8 L322.5,1044.1 L323.5,1041.3 L324.5,1038.5 L325.5,1035.7 L326.5,1032.9 L327.5,1030.1 L328.5,1027.2 L329.5,1024.4 L330.5,1021.6 L331.5,1018.8 L332.5,1016.0 L333.5,1013.2 L334.5,1010.3 L335.5,1007.5 L336.5,1004.7 L337.5,1001.9 L338.5,999.1 L339.5,996.3 L340.5,993.6 L341.5,990.8 L342.5,988.0 L343.5,985.3 L344.5,982.5 L345.5,979.8 L346.5,977.0 L347.5,974.3 L348.5,971.6 L349.5,968.8 L350.5,966.1 L351.5,963.4 L352.5,960.7 L353.5,958.0 L354.5,955.3 L355.5,952.6 L356.5,949.9 L357.5,947.3 L358.5,944.6 L359.5,941.9 L360.5,939.3 L361.5,936.6 L362.5,933.9 L363.5,931.3 L364.5,928.7 L365.5,926.0 L366.5,923.4 L367.5,920.8 L368.5,918.1 L369.5,915.5 L370.5,912.9 L371.5,910.3 L372.5,907.7 L373.5,905.1 L374.5,902.5 L375.5,899.9 L376.5,897.3 L377.5,894.7 L378.5,892.1 L379.5,889.5 L380.5,886.9 L381.5,884.3 L382.5,881.8 L383.5,879.2 L384.5,876.6 L385.5,874.1 L386.5,871.5 L387.5,868.9 L388.5,866.4 L389.5,863.8 L390.5,861.3 L391.5,858.7 L392.5,856.2 L393.5,853.6 L394.5,851.1 L395.5,848.5 L396.5,846.0 L397.5,843.4 L398.5,840.9 L399.5,838.3 L400.5,835.8 L401.5,833.3 L402.5,830.7 L403.5,828.2 L404.5,825.7 L405.5,823.1 L406.5,820.6 L407.5,818.1 L408.5,815.6 L409.5,813.1 L410.5,810.6 L411.5,808.0 L412.5,805.5 L413.5,803.0 L414.5,800.5 L415.5,798.0 L416.5,795.5 L417.5,793.1 L418.5,790.6 L419.5,788.1 L420.5,785.6 L421.5,783.1 L422.5,780.7 L423.5,778.2 L424.5,775.7 L425.5,773.3 L426.5,770.8 L427.5,768.4 L428.5,765.9 L429.5,763.5 L430.5,761.0 L431.5,758.6 L432.5,756.2 L433.5,753.8 L434.5,751.3 L435.5,748.9 L436.5,746.5 L437.5,744.1 L438.5,741.7 L439.5,739.3 L440.5,736.9 L441.5,734.6 L442.5,732.2 L443.5,729.8 L444.5,727.5 L445.5,725.1 L446.5,722.7 L447.5,720.4 L448.5,718.1 L449.5,715.7 L450.5,713.4 L451.5,711.1 L452.5,708.8 L453.5,706.5 L454.5,704.2 L455.5,701.9 L456.5,699.6 L457.5,697.3 L458.5,695.0 L459.5,692.7 L460.5,690.5 L461.5,688.2 L462.5,686.0 L463.5,683.8 L464.5,681.5 L465.5,679.3 L466.5,677.1 L467.5,674.9 L468.5,672.7 L469.5,670.5 L470.5,668.3 L471.5,666.1 L472.5,664.0 L473.5,661.8 L474.5,659.6 L475.5,657.5 L476.5,655.4 L477.5,653.2 L478.5,651.1 L479.5,649.0 L480.5,646.9 L481.5,644.8 L482.5,642.7 L483.5,640.7 L484.5,638.6 L485.5,636.6 L486.5,634.5 L487.5,632.5 L488.5,630.4 L489.5,628.4 L490.5,626.4 L491.5,624.4 L492.5,622.4 L493.5,620.4 L494.5,618.4 L495.5,616.5 L496.5,614.5 L497.5,612.6 L498.5,610.6 L499.5,608.7 L500.5,606.7 L501.5,604.8 L502.5,602.9 L503.5,601.0 L504.5,599.1 L505.5,597.2 L506.5,595.4 L507.5,593.5 L508.5,591.6 L509.5,589.8 L510.5,587.9 L511.5,586.1 L512.5,584.3 L513.5,582.5 L514.5,580.7 L515.5,578.9 L516.5,577.1 L517.5,575.3 L518.5,573.5 L519.5,571.7 L520.5,570.0 L521.5,568.2 L522.5,566.5 L523.5,564.7 L524.5,563.0 L525.5,561.3 L526.5,559.6 L527.5,557.9 L528.5,556.2 L529.5,554.5 L530.5,552.8 L531.5,551.1 L532.5,549.5 L533.5,547.8 L534.5,546.2 L535.5,544.5 L536.5,542.9 L537.5,541.3 L538.5,539.7 L539.5,538.1 L540.5,536.5 L541.5,534.9 L542.5,533.3 L543.5,531.7 L544.5,530.1 L545.5,528.6 L546.5,527.0 L547.5,525.5 L548.5,523.9 L549.5,522.4 L550.5,520.9 L551.5,519.4 L552.5,517.9 L553.5,516.4 L554.5,514.9 L555.5,513.4 L556.5,511.9 L557.5,510.5 L558.5,509.0 L559.5,507.5 L560.5,506.1 L561.5,504.7 L562.5,503.2 L563.5,501.8 L564.5,500.4 L565.5,499.0 L566.5,497.6 L567.5,496.2 L568.5,494.8 L569.5,493.4 L570.5,492.1 L571.5,490.7 L572.5,489.4 L573.5,488.0 L574.5,486.7 L575.5,485.3 L576.5,484.0 L577.5,482.7 L578.5,481.4 L579.5,480.1 L580.5,478.8 L581.5,477.5 L582.5,476.2 L583.5,474.9 L584.5,473.7 L585.5,472.4 L586.5,471.1 L587.5,469.9 L588.5,468.6 L589.5,467.4 L590.5,466.2 L591.5,465.0 L592.5,463.8 L593.5,462.5 L594.5,461.3 L595.5,460.2 L596.5,459.0 L597.5,457.8 L598.5,456.6 L599.5,455.4 L600.5,454.3 L601.5,453.1 L602.5,452.0 L603.5,450.8 L604.5,449.7 L605.5,448.6 L606.5,447.5 L607.5,446.3 L608.5,445.2 L609.5,444.1 L610.5,443.0 L611.5,441.9 L612.5,440.9 L613.5,439.8 L614.5,438.7 L615.5,437.6 L616.5,436.6 L617.5,435.5 L618.5,434.5 L619.5,433.5 L620.5,432.4 L621.5,431.4 L622.5,430.4 L623.5,429.3 L624.5,428.3 L625.5,427.3 L626.5,426.3 L627.5,425.3 L628.5,424.4 L629.5,423.4 L630.5,422.4 L631.5,421.4 L632.5,420.5 L633.5,419.5 L634.5,418.6 L635.5,417.6 L636.5,416.7 L637.5,415.7 L638.5,414.8 L639.5,413.9 L640.5,413.0 L641.5,412.0 L642.5,411.1 L643.5,410.2 L644.5,409.3 L645.5,408.4 L646.5,407.6 L647.5,406.7 L648.5,405.8 L649.5,404.9 L650.5,404.1 L651.5,403.2 L652.5,402.4 L653.5,401.5 L654.5,400.7 L655.5,399.8 L656.5,399.0 L657.5,398.2 L658.5,397.3 L659.5,396.5 L660.5,395.7 L661.5,394.9 L662.5,394.1 L663.5,393.3 L664.5,392.5 L665.5,391.7 L666.5,390.9 L667.5,390.1 L668.5,389.4 L669.5,388.6 L670.5,387.8 L671.5,387.1 L672.5,386.3 L673.5,385.5 L674.5,384.8 L675.5,384.1 L676.5,383.3 L677.5,382.6 L678.5,381.9 L679.5,381.1 L680.5,380.4 L681.5,379.7 L682.5,379.0 L683.5,378.3 L684.5,377.6 L685.5,376.9 L686.5,376.2 L687.5,375.5 L688.5,374.8 L689.5,374.1 L690.5,373.4 L691.5,372.8 L692.5,372.1 L693.5,371.4 L694.5,370.8 L695.5,370.1 L696.5,369.5 L697.5,368.8 L698.5,368.2 L699.5,367.5 L700.5,366.9 L701.5,366.2 L702.5,365.6 L703.5,365.0 L704.5,364.4 L705.5,363.8 L706.5,363.1 L707.5,362.5 L708.5,361.9 L709.5,361.3 L710.5,360.7 L711.5,360.1 L712.5,359.5 L713.5,358.9 L714.5,358.3 L715.5,357.8 L716.5,357.2 L717.5,356.6 L718.5,356.0 L719.5,355.5 L720.5,354.9 L721.5,354.3 L722.5,353.8 L723.5,353.2 L724.5,352.7 L725.5,352.1 L726.5,351.6 L727.5,351.0 L728.5,350.5 L729.5,350.0 L730.5,349.4 L731.5,348.9 L732.5,348.4 L733.5,347.8 L734.5,347.3 L735.5,346.8 L736.5,346.3 L737.5,345.8 L738.5,345.3 L739.5,344.8 L740.5,344.3 L741.5,343.8 L742.5,343.3 L743.5,342.8 L744.5,342.3 L745.5,341.8 L746.5,341.3 L747.5,340.8 L748.5,340.3 L749.5,339.8 L750.5,339.4 L751.5,338.9 L752.5,338.4 L753.5,338.0 L754.5,337.5 L755.5,337.0 L756.5,336.6 L757.5,336.1 L758.5,335.6 L759.5,335.2 L760.5,334.7 L761.5,334.3 L762.5,333.8 L763.5,333.4 L764.5,332.9 L765.5,332.5 L766.5,332.1 L767.5,331.6 L768.5,331.2 L769.5,330.8 L770.5,330.3 L771.5,329.9 L772.5,329.5 L773.5,329.0 L774.5,328.6 L775.5,328.2 L776.5,327.8 L777.5,327.4 L778.5,327.0 L779.5,326.5 L780.5,326.1 L781.5,325.7 L782.5,325.3 L783.5,324.9 L784.5,324.5 L785.5,324.1 L786.5,323.7 L787.5,323.3 L788.5,322.9 L789.5,322.5 L790.5,322.2 L791.5,321.8 L792.5,321.4 L793.5,321.0 L794.5,320.6 L795.5,320.2 L796.5,319.9 L797.5,319.5 L798.5,319.1 L799.5,318.7 L800.5,318.4 L801.5,318.0 L802.5,317.6 L803.5,317.3 L804.5,316.9 L805.5,316.6 L806.5,316.2 L807.5,315.9 L808.5,315.5 L809.5,315.1 L810.5,314.8 L811.5,314.5 L812.5,314.1 L813.5,313.8 L814.5,313.4 L815.5,313.1 L816.5,312.7 L817.5,312.4 L818.5,312.1 L819.5,311.7 L820.5,311.4 L821.5,311.1 L822.5,310.8 L823.5,310.4 L824.5,310.1 L825.5,309.8 L826.5,309.5 L827.5,309.2 L828.5,308.8 L829.5,308.5 L830.5,308.2 L831.5,307.9 L832.5,307.6 L833.5,307.3 L834.5,307.0 L835.5,306.7 L836.5,306.4 L837.5,306.1 L838.5,305.8 L839.5,305.5 L840.5,305.2 L841.5,304.9 L842.5,304.6 L843.5,304.3 L844.5,304.0 L845.5,303.7 L846.5,303.4 L847.5,303.2 L848.5,302.9 L849.5,302.6 L850.5,302.3 L851.5,302.0 L852.5,301.8 L853.5,301.5 L854.5,301.2 L855.5,301.0 L856.5,300.7 L857.5,300.4 L858.5,300.1 L859.5,299.9 L860.5,299.6 L861.5,299.4 L862.5,299.1 L863.5,298.8 L864.5,298.6 L865.5,298.3 L866.5,298.1 L867.5,297.8 L868.5,297.6 L869.5,297.3 L870.5,297.1 L871.5,296.8 L872.5,296.6 L873.5,296.3 L874.5,296.1 L875.5,295.9 L876.5,295.6 L877.5,295.4 L878.5,295.2 L879.5,294.9 L880.5,294.7 L881.5,294.5 L882.5,294.2 L883.5,294.0 L884.5,293.8 L885.5,293.5 L886.5,293.3 L887.5,293.1 L888.5,292.9 L889.5,292.6 L890.5,292.4 L891.5,292.2 L892.5,292.0 L893.5,291.8 L894.5,291.6 L895.5,291.3 L896.5,291.1 L897.5,290.9 L898.5,290.7 L899.5,290.5 L900.5,290.3 L901.5,290.1 L902.5,289.9 L903.5,289.7 L904.5,289.5 L905.5,289.3 L906.5,289.1 L907.5,288.9 L908.5,288.7 L909.5,288.5 L910.5,288.3 L911.5,288.1 L912.5,287.9 L913.5,287.7 L914.5,287.5 L915.5,287.3 L916.5,287.2 L917.5,287.0 L918.5,286.8 L919.5,286.6 L920.5,286.4 L921.5,286.2 L922.5,286.1 L923.5,285.9 L924.5,285.7 L925.5,285.5 L926.5,285.3 L927.5,285.2 L928.5,285.0 L929.5,284.8 L930.5,284.7 L931.5,284.5 L932.5,284.3 L933.5,284.1 L934.5,284.0 L935.5,283.8 L936.5,283.6 L937.5,283.5 L938.5,283.3 L939.5,283.1 L940.5,283.0 L941.5,282.8 L942.5,282.7 L943.5,282.5 L944.5,282.3 L945.5,282.2 L946.5,282.0 L947.5,281.9 L948.5,281.7 L949.5,281.6 L950.5,281.4 L951.5,281.3 L952.5,281.1 L953.5,281.0 L954.5,280.8 L955.5,280.7 L956.5,280.5 L957.5,280.4 L958.5,280.2 L959.5,280.1 L960.5,279.9 L961.5,279.8 L962.5,279.7 L963.5,279.5 L964.5,279.4 L965.5,279.2 L966.5,279.1 L967.5,279.0 L968.5,278.8 L969.5,278.7 L970.5,278.5 L971.5,278.4 L972.5,278.3 L973.5,278.1 L974.5,278.0 L975.5,277.9 L976.5,277.7 L977.5,277.6 L978.5,277.5 L979.5,277.3 L980.5,277.2 L981.5,277.1 L982.5,277.0 L983.5,276.8 L984.5,276.7 L985.5,276.6 L986.5,276.5 L987.5,276.3 L988.5,276.2 L989.5,276.1 L990.5,276.0 L991.5,275.8 L992.5,275.7 L993.5,275.6 L994.5,275.5 L995.5,275.4 L996.5,275.2 L997.5,275.1 L998.5,275.0 L999.5,274.9 L1000.5,274.8 L1001.5,274.7 L1002.5,274.5 L1003.5,274.4 L1004.5,274.3 L1005.5,274.2 L1006.5,274.1 L1007.5,274.0 L1008.5,273.9 L1009.5,273.7 L1010.5,273.6 L1011.5,273.5 L1012.5,273.4 L1013.5,273.3 L1014.5,273.2 L1015.5,273.1 L1016.5,273.0 L1017.5,272.9 L1018.5,272.8 L1019.5,272.6 L1020.5,272.5 L1021.5,272.4 L1022.5,272.3 L1023.5,272.2 L1024.5,272.1 L1025.5,272.0 L1026.5,271.9 L1027.5,271.8 L1028.5,271.7 L1029.5,271.6 L1030.5,271.5 L1031.5,271.4 L1032.5,271.3 L1033.5,271.2 L1034.5,271.1 L1035.5,271.0 L1036.5,270.9 L1037.5,270.8 L1038.5,270.7 L1039.5,270.6 L1040.5,270.5 L1041.5,270.4 L1042.5,270.3 L1043.5,270.2 L1044.5,270.1 L1045.5,270.0 L1046.5,270.0 L1047.5,269.9 L1048.5,269.8 L1049.5,269.7 L1050.5,269.6 L1051.5,269.5 L1052.5,269.4 L1053.5,269.3 L1054.5,269.2 L1055.5,269.1 L1056.5,269.0 L1057.5,269.0 L1058.5,268.9 L1059.5,268.8 L1060.5,268.7 L1061.5,268.6 L1062.5,268.5 L1063.5,268.4 L1064.5,268.3 L1065.5,268.3 L1066.5,268.2 L1067.5,268.1 L1068.5,268.0 L1069.5,267.9 L1070.5,267.8 L1071.5,267.8 L1072.5,267.7 L1073.5,267.6 L1074.5,267.5 L1075.5,267.4 L1076.5,267.4 L1077.5,267.3 L1078.5,267.2 L1079.5,267.1 L1080.5,267.0 L1081.5,267.0 L1082.5,266.9 L1083.5,266.8 L1084.5,266.7 L1085.5,266.7 L1086.5,266.6 L1087.5,266.5 L1088.5,266.4 L1089.5,266.4 L1090.5,266.3 L1091.5,266.2 L1092.5,266.1 L1093.5,266.1 L1094.5,266.0 L1095.5,265.9 L1096.5,265.9 L1097.5,265.8 L1098.5,265.7 L1099.5,265.6 L1100.5,265.6 L1101.5,265.5 L1102.5,265.4 L1103.5,265.4 L1104.5,265.3 L1105.5,265.2 L1106.5,265.2 L1107.5,265.1 L1108.5,265.0 L1109.5,265.0 L1110.5,264.9 L1111.5,264.8 L1112.5,264.8 L1113.5,264.7 L1114.5,264.6 L1115.5,264.6 L1116.5,264.5 L1117.5,264.4 L1118.5,264.4 L1119.5,264.3 L1120.5,264.3 L1121.5,264.2 L1122.5,264.1 L1123.5,264.1 L1124.5,264.0 L1125.5,263.9 L1126.5,263.9 L1127.5,263.8 L1128.5,263.8 L1129.5,263.7 L1130.5,263.7 L1131.5,263.6 L1132.5,263.5 L1133.5,263.5 L1134.5,263.4 L1135.5,263.4 L1136.5,263.3 L1137.5,263.3 L1138.5,263.2 L1139.5,263.1 L1140.5,263.1 L1141.5,263.0 L1142.5,263.0 L1143.5,262.9 L1144.5,262.9 L1145.5,262.8 L1146.5,262.8 L1147.5,262.7 L1148.5,262.7 L1149.5,262.6 L1150.5,262.6 L1151.5,262.5 L1152.5,262.4 L1153.5,262.4 L1154.5,262.3 L1155.5,262.3 L1156.5,262.2 L1157.5,262.2 L1158.5,262.1 L1159.5,262.1 L1160.5,262.1 L1161.5,262.0 L1162.5,262.0 L1163.5,261.9 L1164.5,261.9 L1165.5,261.8 L1166.5,261.8 L1167.5,261.7 L1168.5,261.7 L1169.5,261.6 L1170.5,261.6 L1171.5,261.5 L1172.5,261.5 L1173.5,261.5 L1174.5,261.4 L1175.5,261.4 L1176.5,261.3 L1177.5,261.3 L1178.5,261.2 L1179.5,261.2 L1180.5,261.1 L1181.5,261.1 L1182.5,261.1 L1183.5,261.0 L1184.5,261.0 L1185.5,260.9 L1186.5,260.9 L1187.5,260.9 L1188.5,260.8 L1189.5,260.8 L1190.5,260.7 L1191.5,260.7 L1192.5,260.7 L1193.5,260.6 L1194.5,260.6 L1195.5,260.5 L1196.5,260.5 L1197.5,260.5 L1198.5,260.4 L1199.5,260.4 L1200.5,260.4 L1201.5,260.3 L1202.5,260.3 L1203.5,260.2 L1204.5,260.2 L1205.5,260.2 L1206.5,260.1 L1207.5,260.1 L1208.5,260.1 L1209.5,260.0 L1210.5,260.0 L1211.5,260.0 L1212.5,259.9 L1213.5,259.9 L1214.5,259.9 L1215.5,259.8 L1216.5,259.8 L1217.5,259.8 L1218.5,259.7 L1219.5,259.7 L1220.5,259.7 L1221.5,259.6 L1222.5,259.6 L1223.5,259.6 L1224.5,259.5 L1225.5,259.5 L1226.5,259.5 L1227.5,259.5 L1228.5,259.4 L1229.5,259.4 L1230.5,259.4 L1231.5,259.3 L1232.5,259.3 L1233.5,259.3 L1234.5,259.2 L1235.5,259.2 L1236.5,259.2 L1237.5,259.2 L1238.5,259.1 L1239.5,259.1 L1240.5,259.1 L1241.5,259.0 L1242.5,259.0 L1243.5,259.0 L1244.5,259.0 L1245.5,258.9 L1246.5,258.9 L1247.5,258.9 L1248.5,258.9 L1249.5,258.8 L1250.5,258.8 L1251.5,258.8 L1252.5,258.8 L1253.5,258.7 L1254.5,258.7 L1255.5,258.7 L1256.5,258.7 L1257.5,258.6 L1258.5,258.6 L1259.5,258.6 L1260.5,258.6 L1261.5,258.5 L1262.5,258.5 L1263.5,258.5 L1264.5,258.5 L1265.5,258.4 L1266.5,258.4 L1267.5,258.4 L1268.5,258.4 L1269.5,258.4 L1270.5,258.3 L1271.5,258.3 L1272.5,258.3 L1273.5,258.3 L1274.5,258.2 L1275.5,258.2 L1276.5,258.2 L1277.5,258.2 L1278.5,258.2 L1279.5,258.1 L1280.5,258.1 L1281.5,258.1 L1282.5,258.1 L1283.5,258.1 L1284.5,258.0 L1285.5,258.0 L1286.5,258.0 L1287.5,258.0 L1288.5,258.0 L1289.5,257.9 L1290.5,257.9 L1291.5,257.9 L1292.5,257.9 L1293.5,257.9 L1294.5,257.8 L1295.5,257.8 L1296.5,257.8 L1297.5,257.8 L1298.5,257.8 L1299.5,257.8 L1300.5,257.7 L1301.5,257.7 L1302.5,257.7 L1303.5,257.7 L1304.5,257.7 L1305.5,257.6 L1306.5,257.6 L1307.5,257.6 L1308.5,257.6 L1309.5,257.6 L1310.5,257.6 L1311.5,257.5 L1312.5,257.5 L1313.5,257.5 L1314.5,257.5 L1315.5,257.5 L1316.5,257.5 L1317.5,257.4 L1318.5,257.4 L1319.5,257.4 L1320.5,257.4 L1321.5,257.4 L1322.5,257.4 L1323.5,257.4 L1324.5,257.3 L1325.5,257.3 L1326.5,257.3 L1327.5,257.3 L1328.5,257.3 L1329.5,257.3 L1330.5,257.2 L1331.5,257.2 L1332.5,257.2 L1333.5,257.2 L1334.5,257.2 L1335.5,257.2 L1336.5,257.2 L1337.5,257.1 L1338.5,257.1 L1339.5,257.1 L1340.5,257.1 L1341.5,257.1 L1342.5,257.1 L1343.5,257.1 L1344.5,257.0 L1345.5,257.0 L1346.5,257.0 L1347.5,257.0 L1348.5,257.0 L1349.5,257.0 L1350.5,257.0 L1351.5,256.9 L1352.5,256.9 L1353.5,256.9 L1354.5,256.9 L1355.5,256.9 L1356.5,256.9 L1357.5,256.9 L1358.5,256.9 L1359.5,256.8 L1360.5,256.8 L1361.5,256.8 L1362.5,256.8 L1363.5,256.8 L1364.5,256.8 L1365.5,256.8 L1366.5,256.8 L1367.5,256.7 L1368.5,256.7 L1369.5,256.7 L1370.5,256.7 L1371.5,256.7 L1372.5,256.7 L1373.5,256.7 L1374.5,256.6 L1375.5,256.6 L1376.5,256.6 L1377.5,256.6 L1378.5,256.6 L1379.5,256.6 L1380.5,256.6 L1381.5,256.6 L1382.5,256.5 L1383.5,256.5 L1384.5,256.5 L1385.5,256.5 L1386.5,256.5 L1387.5,256.5 L1388.5,256.5 L1389.5,256.5 L1390.5,256.4 L1391.5,256.4 L1392.5,256.4 L1393.5,256.4 L1394.5,256.4 L1395.5,256.4 L1396.5,256.4 L1397.5,256.4 L1398.5,256.3 L1399.5,256.3 L1400.5,256.3 L1401.5,256.3 L1402.5,256.3 L1403.5,256.3 L1404.5,256.3 L1405.5,256.3 L1406.5,256.2 L1407.5,256.2 L1408.5,256.2 L1409.5,256.2 L1410.5,256.2 L1411.5,256.2 L1412.5,256.2 L1413.5,256.2 L1414.5,256.1 L1415.5,256.1 L1416.5,256.1 L1417.5,256.1 L1418.5,256.1 L1419.5,256.1 L1420.5,256.1 L1421.5,256.1 L1422.5,256.0 L1423.5,256.0 L1424.5,256.0 L1425.5,256.0 L1426.5,256.0 L1427.5,256.0 L1428.5,256.0 L1429.5,256.0 L1430.5,255.9 L1431.5,255.9 L1432.5,255.9 L1433.5,255.9 L1434.5,255.9 L1435.5,255.9 L1436.5,255.9 L1437.5,255.9 L1438.5,255.8 L1439.5,255.8 L1440.5,255.8 L1441.5,255.8 L1442.5,255.8 L1443.5,255.8 L1444.5,255.8 L1445.5,255.8 L1446.5,255.7 L1447.5,255.7 L1448.5,255.7 L1449.5,255.7 L1450.5,255.7 L1451.5,255.7 L1452.5,255.7 L1453.5,255.7 L1454.5,255.6 L1455.5,255.6 L1456.5,255.6 L1457.5,255.6 L1458.5,255.6 L1459.5,255.6 L1460.5,255.6 L1461.5,255.6 L1462.5,255.6 L1463.5,255.5 L1464.5,255.5 L1465.5,255.5 L1466.5,255.5 L1467.5,255.5 L1468.5,255.5 L1469.5,255.5 L1470.5,255.5 L1471.5,255.4 L1472.5,255.4 L1473.5,255.4 L1474.5,255.4 L1475.5,255.4 L1476.5,255.4 L1477.5,255.4 L1478.5,255.4 L1479.5,255.4 L1480.5,255.3 L1481.5,255.3 L1482.5,255.3 L1483.5,255.3 L1484.5,255.3 L1485.5,255.3 L1486.5,255.3 L1487.5,255.3 L1488.5,255.3 L1489.5,255.2 L1490.5,255.2 L1491.5,255.2 L1492.5,255.2 L1493.5,255.2 L1494.5,255.2 L1495.5,255.2 L1496.5,255.2 L1497.5,255.2 L1498.5,255.1 L1499.5,255.1 L1500.5,255.1 L1501.5,255.1 L1502.5,255.1 L1503.5,255.1 L1504.5,255.1 L1505.5,255.1 L1506.5,255.1 L1507.5,255.0 L1508.5,255.0 L1509.5,255.0 L1510.5,255.0 L1511.5,255.0 L1512.5,255.0 L1513.5,255.0 L1514.5,255.0 L1515.5,255.0 L1516.5,254.9 L1517.5,254.9 L1518.5,254.9 L1519.5,254.9 L1520.5,254.9 L1521.5,254.9 L1522.5,254.9 L1523.5,254.9 L1524.5,254.9 L1525.5,254.9 L1526.5,254.8 L1527.5,254.8 L1528.5,254.8 L1529.5,254.8 L1530.5,254.8 L1531.5,254.8 L1532.5,254.8 L1533.5,254.8 L1534.5,254.8 L1535.5,254.8 L1536.5,254.7 L1537.5,254.7 L1538.5,254.7 L1539.5,254.7 L1540.5,254.7 L1541.5,254.7 L1542.5,254.7 L1543.5,254.7 L1544.5,254.7 L1545.5,254.7 L1546.5,254.6 L1547.5,254.6 L1548.5,254.6 L1549.5,254.6 L1550.5,254.6 L1551.5,254.6 L1552.5,254.6 L1553.5,254.6 L1554.5,254.6 L1555.5,254.6 L1556.5,254.6 L1557.5,254.5 L1558.5,254.5 L1559.5,254.5 L1560.5,254.5 L1561.5,254.5 L1562.5,254.5 L1563.5,254.5 L1564.5,254.5 L1565.5,254.5 L1566.5,254.5 L1567.5,254.5 L1568.5,254.4 L1569.5,254.4 L1570.5,254.4 L1571.5,254.4 L1572.5,254.4 L1573.5,254.4 L1574.5,254.4 L1575.5,254.4 L1576.5,254.4 L1577.5,254.4 L1578.5,254.4 L1579.5,254.3 L1580.5,254.3 L1581.5,254.3 L1582.5,254.3 L1583.5,254.3 L1584.5,254.3 L1585.5,254.3 L1586.5,254.3 L1587.5,254.3 L1588.5,254.3 L1589.5,254.3 L1590.5,254.3 L1591.5,254.3 L1592.5,254.2 L1593.5,254.2 L1594.5,254.2 L1595.5,254.2 L1596.5,254.2 L1597.5,254.2 L1598.5,254.2 L1599.5,254.2 L1600.5,254.2 L1601.5,254.2 L1602.5,254.2 L1603.5,254.2 L1604.5,254.2 L1605.5,254.1 L1606.5,254.1 L1607.5,254.1 L1608.5,254.1 L1609.5,254.1 L1610.5,254.1 L1611.5,254.1 L1612.5,254.1 L1613.5,254.1 L1614.5,254.1 L1615.5,254.1 L1616.5,254.1 L1617.5,254.1 L1618.5,254.1 L1619.5,254.0 L1620.5,254.0 L1621.5,254.0 L1622.5,254.0 L1623.5,254.0 L1624.5,254.0 L1625.5,254.0 L1626.5,254.0 L1627.5,254.0 L1628.5,254.0 L1629.5,254.0 L1630.5,254.0 L1631.5,254.0 L1632.5,254.0 L1633.5,254.0 L1634.5,254.0 L1635.5,254.0 L1636.5,253.9 L1637.5,253.9 L1638.5,253.9 L1639.5,253.9 L1640.5,253.9 L1641.5,253.9 L1642.5,253.9 L1643.5,253.9 L1644.5,253.9 L1645.5,253.9 L1646.5,253.9 L1647.5,253.9 L1648.5,253.9 L1649.5,253.9 L1650.5,253.9 L1651.5,253.9 L1652.5,253.9 L1653.5,253.9 L1654.5,253.9 L1655.5,253.8 L1656.5,253.8 L1657.5,253.8 L1658.5,253.8 L1659.5,253.8 L1660.5,253.8 L1661.5,253.8 L1662.5,253.8 L1663.5,253.8 L1664.5,253.8 L1665.5,253.8 L1666.5,253.8 L1667.5,253.8 L1668.5,253.8 L1669.5,253.8 L1670.5,253.8 L1671.5,253.8 L1672.5,253.8 L1673.5,253.8 L1674.5,253.8 L1675.5,253.8 L1676.5,253.8 L1677.5,253.8 L1678.5,253.8 L1679.5,253.7 L1680.5,253.7 L1681.5,253.7 L1682.5,253.7 L1683.5,253.7 L1684.5,253.7 L1685.5,253.7 L1686.5,253.7 L1687.5,253.7 L1688.5,253.7 L1689.5,253.7 L1690.5,253.7 L1691.5,253.7 L1692.5,253.7 L1693.5,253.7 L1694.5,253.7 L1695.5,253.7 L1696.5,253.7 L1697.5,253.7 L1698.5,253.7 L1699.5,253.7 L1700.5,253.7 L1701.5,253.7 L1702.5,253.7 L1703.5,253.7 L1704.5,253.7 L1705.5,253.7 L1706.5,253.7 L1707.5,253.7 L1708.5,253.7 L1709.5,253.7 L1710.5,253.7 L1711.5,253.7 L1712.5,253.7 L1713.5,253.7 L1714.5,253.7 L1715.5,253.7 L1716.5,253.7 L1717.5,253.7 L1718.5,253.7 L1719.5,253.7 L1720.5,253.7 L1721.5,253.7 L1722.5,253.7 L1723.5,253.7 L1724.5,253.7 L1725.5,253.7 L1726.5,253.7 L1727.5,253.7 L1728.5,253.7 L1729.5,253.7 L1730.5,253.7 L1731.5,253.7 L1732.5,253.7 L1733.5,253.7 L1734.5,253.7 L1735.5,253.7 L1736.5,253.7 L1737.5,253.7 L1738.5,253.7 L1739.5,253.7 L1740.5,253.7 L1741.5,253.7 L1742.5,253.7 L1743.5,253.7 L1744.5,253.7 L1745.5,253.7 L1746.5,253.7 L1747.5,253.7 L1748.5,253.7 L1749.5,253.7 L1750.5,253.7 L1751.5,253.7 L1752.5,253.7 L1753.5,253.7 L1754.5,253.7 L1755.5,253.7 L1756.5,253.7 L1757.5,253.7 L1758.5,253.7 L1759.5,253.7 L1760.5,253.7 L1761.5,253.7 L1762.5,253.7 L1763.5,253.7 L1764.5,253.7 L1765.5,253.7 L1766.5,253.7 L1767.5,253.7 L1768.5,253.7 L1769.5,253.7 L1770.5,253.7 L1771.5,253.7 L1772.5,253.7 L1773.5,253.7 L1774.5,253.7 L1775.5,253.7 L1776.5,253.7 L1777.5,253.7 L1778.5,253.7 L1779.5,253.8 L1780.5,253.8 L1781.5,253.8 L1782.5,253.8 L1783.5,253.8" stroke="#ff0000"/>
</g>
<g id="frame" stroke="#000" stroke-width="5" fill="none">
<rect x="287.5" y="64.5" width="1496.0" height="1201.0"/>
<line x1="474.5" y1="1265.5" x2="474.5" y2="1241.0"/><line x1="661.5" y1="1265.5" x2="661.5" y2="1241.0"/><line x1="848.5" y1="1265.5" x2="848.5" y2="1241.0"/><line x1="1035.5" y1="1265.5" x2="1035.5" y2="1241.0"/><line x1="1222.5" y1="1265.5" x2="1222.5" y2="1241.0"/><line x1="1409.5" y1="1265.5" x2="1409.5" y2="1241.0"/><line x1="1596.5" y1="1265.5" x2="1596.5" y2="1241.0"/><line x1="287.5" y1="1115.375" x2="312.0" y2="1115.375"/><line x1="287.5" y1="965.25" x2="312.0" y2="965.25"/><line x1="287.5" y1="815.125" x2="312.0" y2="815.125"/><line x1="287.5" y1="665.0" x2="312.0" y2="665.0"/><line x1="287.5" y1="514.875" x2="312.0" y2="514.875"/><line x1="287.5" y1="364.75" x2="312.0" y2="364.75"/><line x1="287.5" y1="214.625" x2="312.0" y2="214.625"/>
</g>
<g id="leglines" stroke-width="12" stroke-linecap="round">
<line x1="1348" y1="888.7" x2="1517" y2="888.7" stroke="#000000"/>
<line x1="1348" y1="981.1" x2="1517" y2="981.1" stroke="#04ff04"/>
<line x1="1348" y1="1073.4" x2="1517" y2="1073.4" stroke="#1b6ddc"/>
<line x1="1348" y1="1165.8" x2="1517" y2="1165.8" stroke="#ff0000"/>
</g>
<text id="lg0" class="lg" x="1529.33" y="913.3" textLength="221.69" lengthAdjust="spacingAndGlyphs">303.15K</text>
<text id="lg1" class="lg" x="1529.33" y="1005.7" textLength="221.69" lengthAdjust="spacingAndGlyphs">313.15K</text>
<text id="lg2" class="lg" x="1529.33" y="1098.0" textLength="221.69" lengthAdjust="spacingAndGlyphs">333.15K</text>
<text id="lg3" class="lg" x="1529.33" y="1190.3" textLength="221.69" lengthAdjust="spacingAndGlyphs">353.15K</text>
<text id="tTime" class="ttl" x="886.97" y="1463" textLength="190.09" lengthAdjust="spacingAndGlyphs">Time</text>
<text id="tLp" class="ttl" x="1097.33" y="1463" textLength="26.72" lengthAdjust="spacingAndGlyphs" transform="translate(0,105.08) scale(1,0.923)" >(</text>
<text id="ts" class="ttl" x="1123.27" y="1463" textLength="36.21" lengthAdjust="spacingAndGlyphs">s</text>
<text id="tRp" class="ttl" x="1157.06" y="1463" textLength="28.05" lengthAdjust="spacingAndGlyphs" transform="translate(0,105.08) scale(1,0.923)" >)</text>
<text id="yV" class="ttl" transform="translate(89,1243.01) rotate(-90)" x="0" y="0" textLength="302.05" lengthAdjust="spacingAndGlyphs">Volume</text>
<text id="yA" class="ttl" transform="translate(89,933.01) rotate(-90)" x="0" y="0" textLength="300.01" lengthAdjust="spacingAndGlyphs">Average</text>
<text id="yW" class="ttl" transform="translate(89,612.84) rotate(-90)" x="0" y="0" textLength="218.89" lengthAdjust="spacingAndGlyphs">Water</text>
<text id="yC" class="ttl" transform="translate(89,378.04) rotate(-90)" x="0" y="0" textLength="292.05" lengthAdjust="spacingAndGlyphs">Content</text>
<text id="yl0" class="tkl" x="149.75" y="1279.3" textLength="113.36" lengthAdjust="spacingAndGlyphs">10.5</text>
<text id="yl1" class="tkl" x="149.74" y="1129.2" textLength="113.37" lengthAdjust="spacingAndGlyphs">11.0</text>
<text id="yl2" class="tkl" x="149.74" y="979.0" textLength="113.36" lengthAdjust="spacingAndGlyphs">11.5</text>
<text id="yl3" class="tkl" x="149.75" y="828.9" textLength="113.36" lengthAdjust="spacingAndGlyphs">12.0</text>
<text id="yl4" class="tkl" x="149.75" y="678.8" textLength="113.36" lengthAdjust="spacingAndGlyphs">12.5</text>
<text id="yl5" class="tkl" x="149.75" y="528.7" textLength="113.36" lengthAdjust="spacingAndGlyphs">13.0</text>
<text id="yl6" class="tkl" x="149.75" y="378.6" textLength="113.36" lengthAdjust="spacingAndGlyphs">13.5</text>
<text id="yl7" class="tkl" x="149.75" y="228.4" textLength="113.36" lengthAdjust="spacingAndGlyphs">14.0</text>
<text id="yl8" class="tkl" x="149.75" y="78.3" textLength="113.36" lengthAdjust="spacingAndGlyphs">14.5</text>
<text id="xl0" class="tkl" x="271.59" y="1334.5" textLength="34.52" lengthAdjust="spacingAndGlyphs">0</text>
<text id="xl10" class="tkl" x="439.32" y="1334.5" textLength="67.58" lengthAdjust="spacingAndGlyphs">10</text>
<text id="xl20" class="tkl" x="628.74" y="1334.5" textLength="65.06" lengthAdjust="spacingAndGlyphs">20</text>
<text id="xl30" class="tkl" x="816.80" y="1334.5" textLength="63.98" lengthAdjust="spacingAndGlyphs">30</text>
<text id="xl40" class="tkl" x="1004.98" y="1334.5" textLength="62.76" lengthAdjust="spacingAndGlyphs">40</text>
<text id="xl50" class="tkl" x="1190.79" y="1334.5" textLength="63.96" lengthAdjust="spacingAndGlyphs">50</text>
<text id="xl60" class="tkl" x="1377.81" y="1334.5" textLength="63.96" lengthAdjust="spacingAndGlyphs">60</text>
<text id="xl70" class="tkl" x="1563.65" y="1334.5" textLength="65.17" lengthAdjust="spacingAndGlyphs">70</text>
<text id="xl80" class="tkl" x="1751.88" y="1334.5" textLength="63.90" lengthAdjust="spacingAndGlyphs">80</text>
</svg>
</body></html>
